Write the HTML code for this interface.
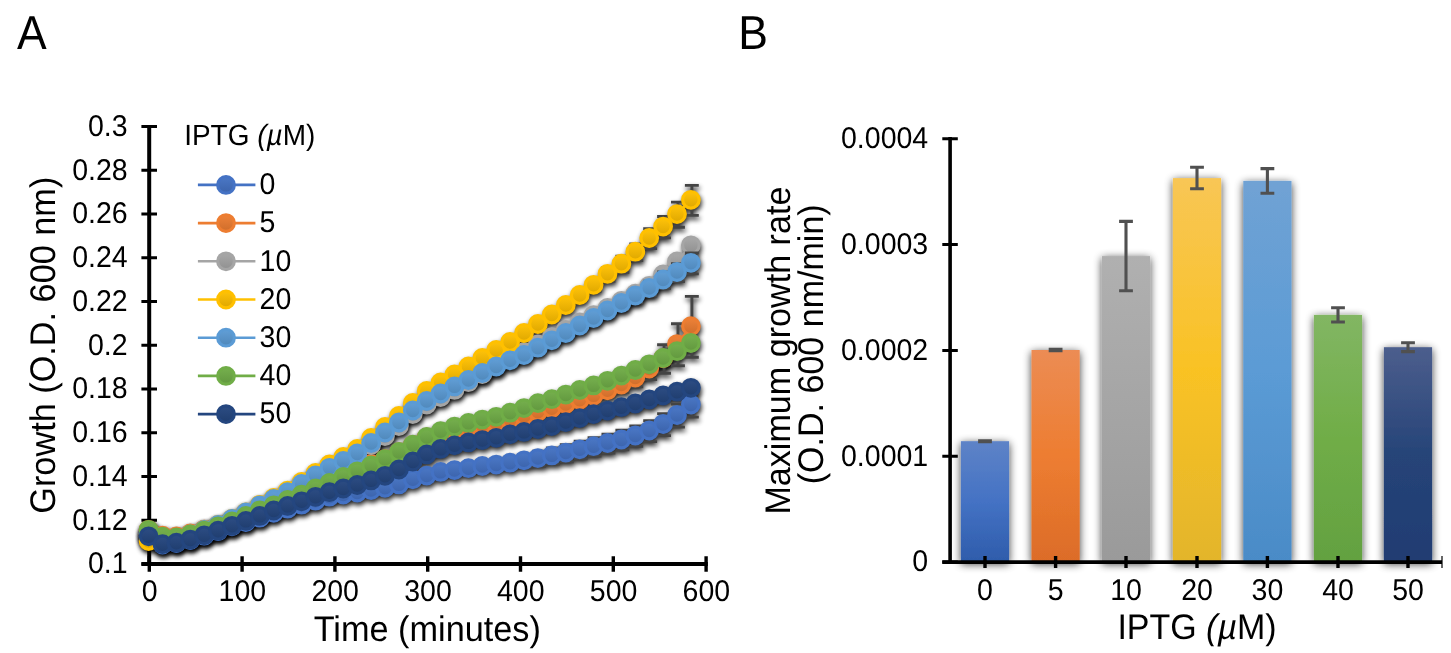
<!DOCTYPE html>
<html><head><meta charset="utf-8"><title>Figure</title>
<style>html,body{margin:0;padding:0;background:#fff;overflow:hidden}svg{display:block;opacity:0.999}</style></head>
<body>
<svg width="1451" height="653" viewBox="0 0 1451 653">
<defs>
<filter id="sh" x="-5%" y="-20%" width="110%" height="140%"><feGaussianBlur in="SourceAlpha" stdDeviation="2.9"/><feOffset dx="1.4" dy="3.4"/><feComponentTransfer><feFuncA type="linear" slope="0.85"/></feComponentTransfer></filter>
<filter id="bsh" x="-40%" y="-15%" width="180%" height="130%"><feGaussianBlur in="SourceAlpha" stdDeviation="4"/><feOffset dx="0" dy="1.5"/><feComponentTransfer><feFuncA type="linear" slope="0.78"/></feComponentTransfer><feMerge><feMergeNode/><feMergeNode in="SourceGraphic"/></feMerge></filter>
<linearGradient id="gs0" x1="0" y1="0" x2="0" y2="1"><stop offset="0" stop-color="#4B78C6"/><stop offset="1" stop-color="#3B63AB"/></linearGradient>
<linearGradient id="gs5" x1="0" y1="0" x2="0" y2="1"><stop offset="0" stop-color="#EE8239"/><stop offset="1" stop-color="#CE6D2B"/></linearGradient>
<linearGradient id="gs10" x1="0" y1="0" x2="0" y2="1"><stop offset="0" stop-color="#A9A9A9"/><stop offset="1" stop-color="#909090"/></linearGradient>
<linearGradient id="gs20" x1="0" y1="0" x2="0" y2="1"><stop offset="0" stop-color="#FFC30A"/><stop offset="1" stop-color="#DEA700"/></linearGradient>
<linearGradient id="gs30" x1="0" y1="0" x2="0" y2="1"><stop offset="0" stop-color="#629FD7"/><stop offset="1" stop-color="#4F87B9"/></linearGradient>
<linearGradient id="gs40" x1="0" y1="0" x2="0" y2="1"><stop offset="0" stop-color="#76B04E"/><stop offset="1" stop-color="#61973E"/></linearGradient>
<linearGradient id="gs50" x1="0" y1="0" x2="0" y2="1"><stop offset="0" stop-color="#2D4D84"/><stop offset="1" stop-color="#1F3D6E"/></linearGradient>
</defs>
<rect width="100%" height="100%" fill="#fff"/>
<g font-family="'Liberation Sans', sans-serif" fill="#000" text-rendering="geometricPrecision">
<text transform="translate(16.90 48.80) scale(0.9350 1)" font-size="47.6" text-anchor="start">A</text>
<text transform="translate(738.30 48.80) scale(0.9350 1)" font-size="47.6" text-anchor="start">B</text>
<g stroke="#000" fill="none">
<path d="M149.2 125V564" stroke-width="4"/>
<path d="M141.4 564H707.8" stroke-width="4"/>
<path d="M141.4 564.00H157M141.4 520.25H157M141.4 476.50H157M141.4 432.75H157M141.4 389.00H157M141.4 345.25H157M141.4 301.50H157M141.4 257.75H157M141.4 214.00H157M141.4 170.25H157M141.4 126.50H157" stroke-width="3"/>
<path d="M149.30 556.2V571.8M242.10 556.2V571.8M334.90 556.2V571.8M427.70 556.2V571.8M520.50 556.2V571.8M613.30 556.2V571.8M706.10 556.2V571.8" stroke-width="3.4"/>
</g>
<g filter="url(#sh)">
<path d="M358.2 491.5V494.7M351.2 491.5h13.9M351.2 494.7h13.9M372.1 489.1V492.4M365.1 489.1h13.9M365.1 492.4h13.9M386.0 486.7V490.1M379.0 486.7h13.9M379.0 490.1h13.9M399.9 483.2V486.8M392.9 483.2h13.9M392.9 486.8h13.9M413.8 478.1V481.7M406.8 478.1h13.9M406.8 481.7h13.9M427.7 474.4V478.0M420.7 474.4h13.9M420.7 478.0h13.9M441.6 470.6V474.4M434.7 470.6h13.9M434.7 474.4h13.9M455.5 468.8V472.6M448.6 468.8h13.9M448.6 472.6h13.9M469.4 466.8V470.8M462.5 466.8h13.9M462.5 470.8h13.9M483.3 464.6V468.6M476.4 464.6h13.9M476.4 468.6h13.9M497.2 461.5V469.0M490.3 461.5h13.9M490.3 469.0h13.9M511.1 457.8V468.8M504.2 457.8h13.9M504.2 468.8h13.9M525.0 454.4V467.4M518.1 454.4h13.9M518.1 467.4h13.9M538.9 451.2V466.2M532.0 451.2h13.9M532.0 466.2h13.9M552.8 448.0V464.0M545.9 448.0h13.9M545.9 464.0h13.9M566.8 444.7V461.7M559.8 444.7h13.9M559.8 461.7h13.9M580.7 441.1V458.7M573.7 441.1h13.9M573.7 458.7h13.9M594.6 437.6V456.0M587.6 437.6h13.9M587.6 456.0h13.9M608.5 434.1V453.1M601.5 434.1h13.9M601.5 453.1h13.9M622.4 430.3V449.9M615.4 430.3h13.9M615.4 449.9h13.9M636.3 425.9V446.3M629.3 425.9h13.9M629.3 446.3h13.9M650.2 420.6V441.6M643.2 420.6h13.9M643.2 441.6h13.9M664.1 413.6V435.6M657.1 413.6h13.9M657.1 435.6h13.9M678.0 404.1V427.1M671.0 404.1h13.9M671.0 427.1h13.9M691.9 393.1V417.1M684.9 393.1h13.9M684.9 417.1h13.9" stroke="#444" stroke-width="2.9" fill="none"/>
<polyline points="148.6,536.6 162.5,544.5 176.4,543.1 190.3,540.0 204.2,535.7 218.1,531.2 232.0,526.3 245.9,522.0 259.8,517.7 273.7,512.8 287.6,508.7 301.6,504.7 315.5,500.7 329.4,496.7 343.3,494.5 357.2,492.5 371.1,490.1 385.0,487.8 398.9,484.4 412.8,479.3 426.7,475.6 440.6,471.9 454.5,470.1 468.4,468.2 482.3,466.0 496.2,464.6 510.1,462.7 524.0,460.3 537.9,458.1 551.8,455.4 565.8,452.6 579.7,449.3 593.6,446.2 607.5,443.0 621.4,439.5 635.3,435.5 649.2,430.5 663.1,424.0 677.0,415.0 690.9,404.5" fill="none" stroke="#4472C4" stroke-width="2.6" stroke-linejoin="round"/>
<circle cx="148.6" cy="536.6" r="9.9"/>
<circle cx="162.5" cy="544.5" r="9.9"/>
<circle cx="176.4" cy="543.1" r="9.9"/>
<circle cx="190.3" cy="540.0" r="9.9"/>
<circle cx="204.2" cy="535.7" r="9.9"/>
<circle cx="218.1" cy="531.2" r="9.9"/>
<circle cx="232.0" cy="526.3" r="9.9"/>
<circle cx="245.9" cy="522.0" r="9.9"/>
<circle cx="259.8" cy="517.7" r="9.9"/>
<circle cx="273.7" cy="512.8" r="9.9"/>
<circle cx="287.6" cy="508.7" r="9.9"/>
<circle cx="301.6" cy="504.7" r="9.9"/>
<circle cx="315.5" cy="500.7" r="9.9"/>
<circle cx="329.4" cy="496.7" r="9.9"/>
<circle cx="343.3" cy="494.5" r="9.9"/>
<circle cx="357.2" cy="492.5" r="9.9"/>
<circle cx="371.1" cy="490.1" r="9.9"/>
<circle cx="385.0" cy="487.8" r="9.9"/>
<circle cx="398.9" cy="484.4" r="9.9"/>
<circle cx="412.8" cy="479.3" r="9.9"/>
<circle cx="426.7" cy="475.6" r="9.9"/>
<circle cx="440.6" cy="471.9" r="9.9"/>
<circle cx="454.5" cy="470.1" r="9.9"/>
<circle cx="468.4" cy="468.2" r="9.9"/>
<circle cx="482.3" cy="466.0" r="9.9"/>
<circle cx="496.2" cy="464.6" r="9.9"/>
<circle cx="510.1" cy="462.7" r="9.9"/>
<circle cx="524.0" cy="460.3" r="9.9"/>
<circle cx="537.9" cy="458.1" r="9.9"/>
<circle cx="551.8" cy="455.4" r="9.9"/>
<circle cx="565.8" cy="452.6" r="9.9"/>
<circle cx="579.7" cy="449.3" r="9.9"/>
<circle cx="593.6" cy="446.2" r="9.9"/>
<circle cx="607.5" cy="443.0" r="9.9"/>
<circle cx="621.4" cy="439.5" r="9.9"/>
<circle cx="635.3" cy="435.5" r="9.9"/>
<circle cx="649.2" cy="430.5" r="9.9"/>
<circle cx="663.1" cy="424.0" r="9.9"/>
<circle cx="677.0" cy="415.0" r="9.9"/>
<circle cx="690.9" cy="404.5" r="9.9"/>
</g>
<g filter="url(#sh)">
<path d="M399.9 451.2V454.4M392.9 451.2h13.9M392.9 454.4h13.9M413.8 444.0V447.3M406.8 444.0h13.9M406.8 447.3h13.9M427.7 436.4V439.8M420.7 436.4h13.9M420.7 439.8h13.9M441.6 431.6V435.0M434.7 431.6h13.9M434.7 435.0h13.9M455.5 428.5V431.9M448.6 428.5h13.9M448.6 431.9h13.9M469.4 426.2V429.8M462.5 426.2h13.9M462.5 429.8h13.9M483.3 423.9V427.5M476.4 423.9h13.9M476.4 427.5h13.9M497.2 421.8V425.5M490.3 421.8h13.9M490.3 425.5h13.9M511.1 418.4V422.2M504.2 418.4h13.9M504.2 422.2h13.9M525.0 414.6V418.4M518.1 414.6h13.9M518.1 418.4h13.9M538.9 410.4V414.2M532.0 410.4h13.9M532.0 414.2h13.9M552.8 406.8V410.8M545.9 406.8h13.9M545.9 410.8h13.9M566.8 402.7V406.7M559.8 402.7h13.9M559.8 406.7h13.9M580.7 397.1V403.6M573.7 397.1h13.9M573.7 403.6h13.9M594.6 391.5V400.5M587.6 391.5h13.9M587.6 400.5h13.9M608.5 385.2V396.7M601.5 385.2h13.9M601.5 396.7h13.9M622.4 378.2V392.2M615.4 378.2h13.9M615.4 392.2h13.9M636.3 369.4V386.9M629.3 369.4h13.9M629.3 386.9h13.9M650.2 358.6V379.6M643.2 358.6h13.9M643.2 379.6h13.9M664.1 344.7V373.2M657.1 344.7h13.9M657.1 373.2h13.9M678.0 323.7V365.7M671.0 323.7h13.9M671.0 365.7h13.9M691.9 296.4V357.2M684.9 296.4h13.9M684.9 357.2h13.9" stroke="#444" stroke-width="2.9" fill="none"/>
<polyline points="148.6,529.8 162.5,535.7 176.4,536.5 190.3,533.4 204.2,529.6 218.1,525.8 232.0,521.4 245.9,516.0 259.8,510.3 273.7,505.3 287.6,500.0 301.6,494.6 315.5,488.4 329.4,483.0 343.3,475.5 357.2,469.8 371.1,464.0 385.0,459.1 398.9,452.2 412.8,445.0 426.7,437.5 440.6,432.7 454.5,429.6 468.4,427.4 482.3,425.1 496.2,423.1 510.1,419.7 524.0,415.9 537.9,411.7 551.8,408.2 565.8,404.1 579.7,399.8 593.6,395.4 607.5,390.3 621.4,384.6 635.3,377.5 649.2,368.5 663.1,358.3 677.0,344.1 690.9,326.2" fill="none" stroke="#ED7D31" stroke-width="2.6" stroke-linejoin="round"/>
<circle cx="148.6" cy="529.8" r="9.9"/>
<circle cx="162.5" cy="535.7" r="9.9"/>
<circle cx="176.4" cy="536.5" r="9.9"/>
<circle cx="190.3" cy="533.4" r="9.9"/>
<circle cx="204.2" cy="529.6" r="9.9"/>
<circle cx="218.1" cy="525.8" r="9.9"/>
<circle cx="232.0" cy="521.4" r="9.9"/>
<circle cx="245.9" cy="516.0" r="9.9"/>
<circle cx="259.8" cy="510.3" r="9.9"/>
<circle cx="273.7" cy="505.3" r="9.9"/>
<circle cx="287.6" cy="500.0" r="9.9"/>
<circle cx="301.6" cy="494.6" r="9.9"/>
<circle cx="315.5" cy="488.4" r="9.9"/>
<circle cx="329.4" cy="483.0" r="9.9"/>
<circle cx="343.3" cy="475.5" r="9.9"/>
<circle cx="357.2" cy="469.8" r="9.9"/>
<circle cx="371.1" cy="464.0" r="9.9"/>
<circle cx="385.0" cy="459.1" r="9.9"/>
<circle cx="398.9" cy="452.2" r="9.9"/>
<circle cx="412.8" cy="445.0" r="9.9"/>
<circle cx="426.7" cy="437.5" r="9.9"/>
<circle cx="440.6" cy="432.7" r="9.9"/>
<circle cx="454.5" cy="429.6" r="9.9"/>
<circle cx="468.4" cy="427.4" r="9.9"/>
<circle cx="482.3" cy="425.1" r="9.9"/>
<circle cx="496.2" cy="423.1" r="9.9"/>
<circle cx="510.1" cy="419.7" r="9.9"/>
<circle cx="524.0" cy="415.9" r="9.9"/>
<circle cx="537.9" cy="411.7" r="9.9"/>
<circle cx="551.8" cy="408.2" r="9.9"/>
<circle cx="565.8" cy="404.1" r="9.9"/>
<circle cx="579.7" cy="399.8" r="9.9"/>
<circle cx="593.6" cy="395.4" r="9.9"/>
<circle cx="607.5" cy="390.3" r="9.9"/>
<circle cx="621.4" cy="384.6" r="9.9"/>
<circle cx="635.3" cy="377.5" r="9.9"/>
<circle cx="649.2" cy="368.5" r="9.9"/>
<circle cx="663.1" cy="358.3" r="9.9"/>
<circle cx="677.0" cy="344.1" r="9.9"/>
<circle cx="690.9" cy="326.2" r="9.9"/>
</g>
<g filter="url(#sh)">
<polyline points="148.6,534.0 162.5,539.0 176.4,538.9 190.3,535.4 204.2,530.9 218.1,525.8 232.0,519.8 245.9,513.2 259.8,506.0 273.7,499.7 287.6,492.8 301.6,484.6 315.5,476.0 329.4,468.3 343.3,461.5 357.2,454.5 371.1,445.0 385.0,436.0 398.9,426.0 412.8,414.0 426.7,404.5 440.6,397.0 454.5,389.9 468.4,382.2 482.3,374.0 496.2,365.5 510.1,357.8 524.0,352.1 537.9,344.5 551.8,337.1 565.8,329.8 579.7,322.3 593.6,315.1 607.5,308.0 621.4,300.9 635.3,293.7 649.2,285.8 663.1,274.5 677.0,261.5 690.9,245.3" fill="none" stroke="#A5A5A5" stroke-width="2.6" stroke-linejoin="round"/>
<circle cx="148.6" cy="534.0" r="9.9"/>
<circle cx="162.5" cy="539.0" r="9.9"/>
<circle cx="176.4" cy="538.9" r="9.9"/>
<circle cx="190.3" cy="535.4" r="9.9"/>
<circle cx="204.2" cy="530.9" r="9.9"/>
<circle cx="218.1" cy="525.8" r="9.9"/>
<circle cx="232.0" cy="519.8" r="9.9"/>
<circle cx="245.9" cy="513.2" r="9.9"/>
<circle cx="259.8" cy="506.0" r="9.9"/>
<circle cx="273.7" cy="499.7" r="9.9"/>
<circle cx="287.6" cy="492.8" r="9.9"/>
<circle cx="301.6" cy="484.6" r="9.9"/>
<circle cx="315.5" cy="476.0" r="9.9"/>
<circle cx="329.4" cy="468.3" r="9.9"/>
<circle cx="343.3" cy="461.5" r="9.9"/>
<circle cx="357.2" cy="454.5" r="9.9"/>
<circle cx="371.1" cy="445.0" r="9.9"/>
<circle cx="385.0" cy="436.0" r="9.9"/>
<circle cx="398.9" cy="426.0" r="9.9"/>
<circle cx="412.8" cy="414.0" r="9.9"/>
<circle cx="426.7" cy="404.5" r="9.9"/>
<circle cx="440.6" cy="397.0" r="9.9"/>
<circle cx="454.5" cy="389.9" r="9.9"/>
<circle cx="468.4" cy="382.2" r="9.9"/>
<circle cx="482.3" cy="374.0" r="9.9"/>
<circle cx="496.2" cy="365.5" r="9.9"/>
<circle cx="510.1" cy="357.8" r="9.9"/>
<circle cx="524.0" cy="352.1" r="9.9"/>
<circle cx="537.9" cy="344.5" r="9.9"/>
<circle cx="551.8" cy="337.1" r="9.9"/>
<circle cx="565.8" cy="329.8" r="9.9"/>
<circle cx="579.7" cy="322.3" r="9.9"/>
<circle cx="593.6" cy="315.1" r="9.9"/>
<circle cx="607.5" cy="308.0" r="9.9"/>
<circle cx="621.4" cy="300.9" r="9.9"/>
<circle cx="635.3" cy="293.7" r="9.9"/>
<circle cx="649.2" cy="285.8" r="9.9"/>
<circle cx="663.1" cy="274.5" r="9.9"/>
<circle cx="677.0" cy="261.5" r="9.9"/>
<circle cx="690.9" cy="245.3" r="9.9"/>
</g>
<g filter="url(#sh)">
<path d="M386.0 426.0V429.2M379.0 426.0h13.9M379.0 429.2h13.9M399.9 415.0V418.2M392.9 415.0h13.9M392.9 418.2h13.9M413.8 401.9V405.3M406.8 401.9h13.9M406.8 405.3h13.9M427.7 389.9V393.3M420.7 389.9h13.9M420.7 393.3h13.9M441.6 381.4V384.9M434.7 381.4h13.9M434.7 384.9h13.9M455.5 373.3V376.9M448.6 373.3h13.9M448.6 376.9h13.9M469.4 365.3V368.9M462.5 365.3h13.9M462.5 368.9h13.9M483.3 356.7V360.5M476.4 356.7h13.9M476.4 360.5h13.9M497.2 348.7V352.5M490.3 348.7h13.9M490.3 352.5h13.9M511.1 340.7V344.5M504.2 340.7h13.9M504.2 344.5h13.9M525.0 331.6V335.6M518.1 331.6h13.9M518.1 335.6h13.9M538.9 322.6V326.6M532.0 322.6h13.9M532.0 326.6h13.9M552.8 312.1V318.1M545.9 312.1h13.9M545.9 318.1h13.9M566.8 301.6V309.6M559.8 301.6h13.9M559.8 309.6h13.9M580.7 290.6V300.6M573.7 290.6h13.9M573.7 300.6h13.9M594.6 279.4V291.4M587.6 279.4h13.9M587.6 291.4h13.9M608.5 267.4V281.4M601.5 267.4h13.9M601.5 281.4h13.9M622.4 256.3V272.3M615.4 256.3h13.9M615.4 272.3h13.9M636.3 244.0V260.6M629.3 244.0h13.9M629.3 260.6h13.9M650.2 228.6V248.6M643.2 228.6h13.9M643.2 248.6h13.9M664.1 216.5V237.9M657.1 216.5h13.9M657.1 237.9h13.9M678.0 202.1V227.3M671.0 202.1h13.9M671.0 227.3h13.9M691.9 185.4V215.4M684.9 185.4h13.9M684.9 215.4h13.9" stroke="#444" stroke-width="2.9" fill="none"/>
<polyline points="148.6,541.0 162.5,539.0 176.4,538.0 190.3,534.5 204.2,530.0 218.1,525.0 232.0,519.0 245.9,512.3 259.8,504.8 273.7,498.0 287.6,490.7 301.6,482.0 315.5,473.0 329.4,464.5 343.3,457.0 357.2,449.0 371.1,438.0 385.0,427.0 398.9,416.0 412.8,403.0 426.7,391.0 440.6,382.5 454.5,374.5 468.4,366.5 482.3,358.0 496.2,350.0 510.1,342.0 524.0,333.0 537.9,324.0 551.8,314.5 565.8,305.0 579.7,295.0 593.6,284.8 607.5,273.8 621.4,263.7 635.3,251.7 649.2,238.0 663.1,226.6 677.0,214.1 690.9,199.8" fill="none" stroke="#FFC000" stroke-width="2.6" stroke-linejoin="round"/>
<circle cx="148.6" cy="541.0" r="9.9"/>
<circle cx="162.5" cy="539.0" r="9.9"/>
<circle cx="176.4" cy="538.0" r="9.9"/>
<circle cx="190.3" cy="534.5" r="9.9"/>
<circle cx="204.2" cy="530.0" r="9.9"/>
<circle cx="218.1" cy="525.0" r="9.9"/>
<circle cx="232.0" cy="519.0" r="9.9"/>
<circle cx="245.9" cy="512.3" r="9.9"/>
<circle cx="259.8" cy="504.8" r="9.9"/>
<circle cx="273.7" cy="498.0" r="9.9"/>
<circle cx="287.6" cy="490.7" r="9.9"/>
<circle cx="301.6" cy="482.0" r="9.9"/>
<circle cx="315.5" cy="473.0" r="9.9"/>
<circle cx="329.4" cy="464.5" r="9.9"/>
<circle cx="343.3" cy="457.0" r="9.9"/>
<circle cx="357.2" cy="449.0" r="9.9"/>
<circle cx="371.1" cy="438.0" r="9.9"/>
<circle cx="385.0" cy="427.0" r="9.9"/>
<circle cx="398.9" cy="416.0" r="9.9"/>
<circle cx="412.8" cy="403.0" r="9.9"/>
<circle cx="426.7" cy="391.0" r="9.9"/>
<circle cx="440.6" cy="382.5" r="9.9"/>
<circle cx="454.5" cy="374.5" r="9.9"/>
<circle cx="468.4" cy="366.5" r="9.9"/>
<circle cx="482.3" cy="358.0" r="9.9"/>
<circle cx="496.2" cy="350.0" r="9.9"/>
<circle cx="510.1" cy="342.0" r="9.9"/>
<circle cx="524.0" cy="333.0" r="9.9"/>
<circle cx="537.9" cy="324.0" r="9.9"/>
<circle cx="551.8" cy="314.5" r="9.9"/>
<circle cx="565.8" cy="305.0" r="9.9"/>
<circle cx="579.7" cy="295.0" r="9.9"/>
<circle cx="593.6" cy="284.8" r="9.9"/>
<circle cx="607.5" cy="273.8" r="9.9"/>
<circle cx="621.4" cy="263.7" r="9.9"/>
<circle cx="635.3" cy="251.7" r="9.9"/>
<circle cx="649.2" cy="238.0" r="9.9"/>
<circle cx="663.1" cy="226.6" r="9.9"/>
<circle cx="677.0" cy="214.1" r="9.9"/>
<circle cx="690.9" cy="199.8" r="9.9"/>
</g>
<g filter="url(#sh)">
<path d="M399.9 421.5V424.7M392.9 421.5h13.9M392.9 424.7h13.9M413.8 409.5V412.7M406.8 409.5h13.9M406.8 412.7h13.9M427.7 399.9V403.3M420.7 399.9h13.9M420.7 403.3h13.9M441.6 392.4V395.8M434.7 392.4h13.9M434.7 395.8h13.9M455.5 385.3V388.7M448.6 385.3h13.9M448.6 388.7h13.9M469.4 378.8V382.4M462.5 378.8h13.9M462.5 382.4h13.9M483.3 371.8V375.4M476.4 371.8h13.9M476.4 375.4h13.9M497.2 365.3V368.9M490.3 365.3h13.9M490.3 368.9h13.9M511.1 359.0V362.8M504.2 359.0h13.9M504.2 362.8h13.9M525.0 353.7V357.5M518.1 353.7h13.9M518.1 357.5h13.9M538.9 346.4V350.2M532.0 346.4h13.9M532.0 350.2h13.9M552.8 338.9V342.9M545.9 338.9h13.9M545.9 342.9h13.9M566.8 331.6V335.6M559.8 331.6h13.9M559.8 335.6h13.9M580.7 323.2V329.0M573.7 323.2h13.9M573.7 329.0h13.9M594.6 314.8V322.4M587.6 314.8h13.9M587.6 322.4h13.9M608.5 306.4V315.9M601.5 306.4h13.9M601.5 315.9h13.9M622.4 297.9V309.3M615.4 297.9h13.9M615.4 309.3h13.9M636.3 289.5V302.7M629.3 289.5h13.9M629.3 302.7h13.9M650.2 281.1V296.1M643.2 281.1h13.9M643.2 296.1h13.9M664.1 271.9V288.4M657.1 271.9h13.9M657.1 288.4h13.9M678.0 263.6V281.6M671.0 263.6h13.9M671.0 281.6h13.9M691.9 252.9V273.9M684.9 252.9h13.9M684.9 273.9h13.9" stroke="#444" stroke-width="2.9" fill="none"/>
<polyline points="148.6,533.0 162.5,538.0 176.4,538.0 190.3,534.5 204.2,530.0 218.1,525.0 232.0,519.0 245.9,512.5 259.8,505.3 273.7,499.0 287.6,492.2 301.6,484.0 315.5,475.4 329.4,467.8 343.3,461.0 357.2,453.5 371.1,443.0 385.0,432.5 398.9,422.5 412.8,410.5 426.7,401.0 440.6,393.5 454.5,386.4 468.4,380.0 482.3,373.0 496.2,366.5 510.1,360.3 524.0,355.0 537.9,347.7 551.8,340.3 565.8,333.0 579.7,325.5 593.6,318.0 607.5,310.5 621.4,303.0 635.3,295.5 649.2,288.0 663.1,279.5 677.0,272.0 690.9,262.8" fill="none" stroke="#5B9BD5" stroke-width="2.6" stroke-linejoin="round"/>
<circle cx="148.6" cy="533.0" r="9.9"/>
<circle cx="162.5" cy="538.0" r="9.9"/>
<circle cx="176.4" cy="538.0" r="9.9"/>
<circle cx="190.3" cy="534.5" r="9.9"/>
<circle cx="204.2" cy="530.0" r="9.9"/>
<circle cx="218.1" cy="525.0" r="9.9"/>
<circle cx="232.0" cy="519.0" r="9.9"/>
<circle cx="245.9" cy="512.5" r="9.9"/>
<circle cx="259.8" cy="505.3" r="9.9"/>
<circle cx="273.7" cy="499.0" r="9.9"/>
<circle cx="287.6" cy="492.2" r="9.9"/>
<circle cx="301.6" cy="484.0" r="9.9"/>
<circle cx="315.5" cy="475.4" r="9.9"/>
<circle cx="329.4" cy="467.8" r="9.9"/>
<circle cx="343.3" cy="461.0" r="9.9"/>
<circle cx="357.2" cy="453.5" r="9.9"/>
<circle cx="371.1" cy="443.0" r="9.9"/>
<circle cx="385.0" cy="432.5" r="9.9"/>
<circle cx="398.9" cy="422.5" r="9.9"/>
<circle cx="412.8" cy="410.5" r="9.9"/>
<circle cx="426.7" cy="401.0" r="9.9"/>
<circle cx="440.6" cy="393.5" r="9.9"/>
<circle cx="454.5" cy="386.4" r="9.9"/>
<circle cx="468.4" cy="380.0" r="9.9"/>
<circle cx="482.3" cy="373.0" r="9.9"/>
<circle cx="496.2" cy="366.5" r="9.9"/>
<circle cx="510.1" cy="360.3" r="9.9"/>
<circle cx="524.0" cy="355.0" r="9.9"/>
<circle cx="537.9" cy="347.7" r="9.9"/>
<circle cx="551.8" cy="340.3" r="9.9"/>
<circle cx="565.8" cy="333.0" r="9.9"/>
<circle cx="579.7" cy="325.5" r="9.9"/>
<circle cx="593.6" cy="318.0" r="9.9"/>
<circle cx="607.5" cy="310.5" r="9.9"/>
<circle cx="621.4" cy="303.0" r="9.9"/>
<circle cx="635.3" cy="295.5" r="9.9"/>
<circle cx="649.2" cy="288.0" r="9.9"/>
<circle cx="663.1" cy="279.5" r="9.9"/>
<circle cx="677.0" cy="272.0" r="9.9"/>
<circle cx="690.9" cy="262.8" r="9.9"/>
</g>
<g filter="url(#sh)">
<polyline points="148.6,529.8 162.5,536.7 176.4,537.5 190.3,534.4 204.2,530.6 218.1,526.3 232.0,521.4 245.9,516.0 259.8,510.3 273.7,505.3 287.6,500.0 301.6,494.6 315.5,488.4 329.4,483.0 343.3,477.0 357.2,471.3 371.1,465.5 385.0,459.1 398.9,452.0 412.8,444.7 426.7,437.0 440.6,431.2 454.5,426.6 468.4,422.9 482.3,419.6 496.2,416.8 510.1,412.7 524.0,408.1 537.9,403.2 551.8,399.2 565.8,394.6 579.7,390.0 593.6,385.4 607.5,380.8 621.4,375.6 635.3,370.0 649.2,364.3 663.1,358.0 677.0,351.2 690.9,343.0" fill="none" stroke="#70AD47" stroke-width="2.6" stroke-linejoin="round"/>
<circle cx="148.6" cy="529.8" r="9.9"/>
<circle cx="162.5" cy="536.7" r="9.9"/>
<circle cx="176.4" cy="537.5" r="9.9"/>
<circle cx="190.3" cy="534.4" r="9.9"/>
<circle cx="204.2" cy="530.6" r="9.9"/>
<circle cx="218.1" cy="526.3" r="9.9"/>
<circle cx="232.0" cy="521.4" r="9.9"/>
<circle cx="245.9" cy="516.0" r="9.9"/>
<circle cx="259.8" cy="510.3" r="9.9"/>
<circle cx="273.7" cy="505.3" r="9.9"/>
<circle cx="287.6" cy="500.0" r="9.9"/>
<circle cx="301.6" cy="494.6" r="9.9"/>
<circle cx="315.5" cy="488.4" r="9.9"/>
<circle cx="329.4" cy="483.0" r="9.9"/>
<circle cx="343.3" cy="477.0" r="9.9"/>
<circle cx="357.2" cy="471.3" r="9.9"/>
<circle cx="371.1" cy="465.5" r="9.9"/>
<circle cx="385.0" cy="459.1" r="9.9"/>
<circle cx="398.9" cy="452.0" r="9.9"/>
<circle cx="412.8" cy="444.7" r="9.9"/>
<circle cx="426.7" cy="437.0" r="9.9"/>
<circle cx="440.6" cy="431.2" r="9.9"/>
<circle cx="454.5" cy="426.6" r="9.9"/>
<circle cx="468.4" cy="422.9" r="9.9"/>
<circle cx="482.3" cy="419.6" r="9.9"/>
<circle cx="496.2" cy="416.8" r="9.9"/>
<circle cx="510.1" cy="412.7" r="9.9"/>
<circle cx="524.0" cy="408.1" r="9.9"/>
<circle cx="537.9" cy="403.2" r="9.9"/>
<circle cx="551.8" cy="399.2" r="9.9"/>
<circle cx="565.8" cy="394.6" r="9.9"/>
<circle cx="579.7" cy="390.0" r="9.9"/>
<circle cx="593.6" cy="385.4" r="9.9"/>
<circle cx="607.5" cy="380.8" r="9.9"/>
<circle cx="621.4" cy="375.6" r="9.9"/>
<circle cx="635.3" cy="370.0" r="9.9"/>
<circle cx="649.2" cy="364.3" r="9.9"/>
<circle cx="663.1" cy="358.0" r="9.9"/>
<circle cx="677.0" cy="351.2" r="9.9"/>
<circle cx="690.9" cy="343.0" r="9.9"/>
</g>
<g filter="url(#sh)">
<polyline points="148.6,536.3 162.5,544.2 176.4,542.7 190.3,539.6 204.2,535.3 218.1,530.7 232.0,525.8 245.9,520.9 259.8,515.9 273.7,510.5 287.6,505.9 301.6,501.3 315.5,496.8 329.4,492.2 343.3,488.5 357.2,485.0 371.1,480.4 385.0,475.8 398.9,469.5 412.8,461.5 426.7,454.4 440.6,448.9 454.5,445.3 468.4,442.4 482.3,440.1 496.2,437.8 510.1,434.3 524.0,431.9 537.9,429.0 551.8,426.1 565.8,422.1 579.7,418.1 593.6,414.1 607.5,410.6 621.4,407.2 635.3,403.5 649.2,399.5 663.1,395.5 677.0,391.7 690.9,387.8" fill="none" stroke="#24467F" stroke-width="2.6" stroke-linejoin="round"/>
<circle cx="148.6" cy="536.3" r="9.9"/>
<circle cx="162.5" cy="544.2" r="9.9"/>
<circle cx="176.4" cy="542.7" r="9.9"/>
<circle cx="190.3" cy="539.6" r="9.9"/>
<circle cx="204.2" cy="535.3" r="9.9"/>
<circle cx="218.1" cy="530.7" r="9.9"/>
<circle cx="232.0" cy="525.8" r="9.9"/>
<circle cx="245.9" cy="520.9" r="9.9"/>
<circle cx="259.8" cy="515.9" r="9.9"/>
<circle cx="273.7" cy="510.5" r="9.9"/>
<circle cx="287.6" cy="505.9" r="9.9"/>
<circle cx="301.6" cy="501.3" r="9.9"/>
<circle cx="315.5" cy="496.8" r="9.9"/>
<circle cx="329.4" cy="492.2" r="9.9"/>
<circle cx="343.3" cy="488.5" r="9.9"/>
<circle cx="357.2" cy="485.0" r="9.9"/>
<circle cx="371.1" cy="480.4" r="9.9"/>
<circle cx="385.0" cy="475.8" r="9.9"/>
<circle cx="398.9" cy="469.5" r="9.9"/>
<circle cx="412.8" cy="461.5" r="9.9"/>
<circle cx="426.7" cy="454.4" r="9.9"/>
<circle cx="440.6" cy="448.9" r="9.9"/>
<circle cx="454.5" cy="445.3" r="9.9"/>
<circle cx="468.4" cy="442.4" r="9.9"/>
<circle cx="482.3" cy="440.1" r="9.9"/>
<circle cx="496.2" cy="437.8" r="9.9"/>
<circle cx="510.1" cy="434.3" r="9.9"/>
<circle cx="524.0" cy="431.9" r="9.9"/>
<circle cx="537.9" cy="429.0" r="9.9"/>
<circle cx="551.8" cy="426.1" r="9.9"/>
<circle cx="565.8" cy="422.1" r="9.9"/>
<circle cx="579.7" cy="418.1" r="9.9"/>
<circle cx="593.6" cy="414.1" r="9.9"/>
<circle cx="607.5" cy="410.6" r="9.9"/>
<circle cx="621.4" cy="407.2" r="9.9"/>
<circle cx="635.3" cy="403.5" r="9.9"/>
<circle cx="649.2" cy="399.5" r="9.9"/>
<circle cx="663.1" cy="395.5" r="9.9"/>
<circle cx="677.0" cy="391.7" r="9.9"/>
<circle cx="690.9" cy="387.8" r="9.9"/>
</g>
<g>
<path d="M358.2 491.5V494.7M351.2 491.5h13.9M351.2 494.7h13.9M372.1 489.1V492.4M365.1 489.1h13.9M365.1 492.4h13.9M386.0 486.7V490.1M379.0 486.7h13.9M379.0 490.1h13.9M399.9 483.2V486.8M392.9 483.2h13.9M392.9 486.8h13.9M413.8 478.1V481.7M406.8 478.1h13.9M406.8 481.7h13.9M427.7 474.4V478.0M420.7 474.4h13.9M420.7 478.0h13.9M441.6 470.6V474.4M434.7 470.6h13.9M434.7 474.4h13.9M455.5 468.8V472.6M448.6 468.8h13.9M448.6 472.6h13.9M469.4 466.8V470.8M462.5 466.8h13.9M462.5 470.8h13.9M483.3 464.6V468.6M476.4 464.6h13.9M476.4 468.6h13.9M497.2 461.5V469.0M490.3 461.5h13.9M490.3 469.0h13.9M511.1 457.8V468.8M504.2 457.8h13.9M504.2 468.8h13.9M525.0 454.4V467.4M518.1 454.4h13.9M518.1 467.4h13.9M538.9 451.2V466.2M532.0 451.2h13.9M532.0 466.2h13.9M552.8 448.0V464.0M545.9 448.0h13.9M545.9 464.0h13.9M566.8 444.7V461.7M559.8 444.7h13.9M559.8 461.7h13.9M580.7 441.1V458.7M573.7 441.1h13.9M573.7 458.7h13.9M594.6 437.6V456.0M587.6 437.6h13.9M587.6 456.0h13.9M608.5 434.1V453.1M601.5 434.1h13.9M601.5 453.1h13.9M622.4 430.3V449.9M615.4 430.3h13.9M615.4 449.9h13.9M636.3 425.9V446.3M629.3 425.9h13.9M629.3 446.3h13.9M650.2 420.6V441.6M643.2 420.6h13.9M643.2 441.6h13.9M664.1 413.6V435.6M657.1 413.6h13.9M657.1 435.6h13.9M678.0 404.1V427.1M671.0 404.1h13.9M671.0 427.1h13.9M691.9 393.1V417.1M684.9 393.1h13.9M684.9 417.1h13.9" stroke="#444" stroke-width="2.9" fill="none"/>
<polyline points="148.6,536.6 162.5,544.5 176.4,543.1 190.3,540.0 204.2,535.7 218.1,531.2 232.0,526.3 245.9,522.0 259.8,517.7 273.7,512.8 287.6,508.7 301.6,504.7 315.5,500.7 329.4,496.7 343.3,494.5 357.2,492.5 371.1,490.1 385.0,487.8 398.9,484.4 412.8,479.3 426.7,475.6 440.6,471.9 454.5,470.1 468.4,468.2 482.3,466.0 496.2,464.6 510.1,462.7 524.0,460.3 537.9,458.1 551.8,455.4 565.8,452.6 579.7,449.3 593.6,446.2 607.5,443.0 621.4,439.5 635.3,435.5 649.2,430.5 663.1,424.0 677.0,415.0 690.9,404.5" fill="none" stroke="#4472C4" stroke-width="2.6" stroke-linejoin="round"/>
<circle cx="148.6" cy="536.6" r="8.3" fill="url(#gs0)" stroke="#4472C4" stroke-width="3.2"/>
<circle cx="162.5" cy="544.5" r="8.3" fill="url(#gs0)" stroke="#4472C4" stroke-width="3.2"/>
<circle cx="176.4" cy="543.1" r="8.3" fill="url(#gs0)" stroke="#4472C4" stroke-width="3.2"/>
<circle cx="190.3" cy="540.0" r="8.3" fill="url(#gs0)" stroke="#4472C4" stroke-width="3.2"/>
<circle cx="204.2" cy="535.7" r="8.3" fill="url(#gs0)" stroke="#4472C4" stroke-width="3.2"/>
<circle cx="218.1" cy="531.2" r="8.3" fill="url(#gs0)" stroke="#4472C4" stroke-width="3.2"/>
<circle cx="232.0" cy="526.3" r="8.3" fill="url(#gs0)" stroke="#4472C4" stroke-width="3.2"/>
<circle cx="245.9" cy="522.0" r="8.3" fill="url(#gs0)" stroke="#4472C4" stroke-width="3.2"/>
<circle cx="259.8" cy="517.7" r="8.3" fill="url(#gs0)" stroke="#4472C4" stroke-width="3.2"/>
<circle cx="273.7" cy="512.8" r="8.3" fill="url(#gs0)" stroke="#4472C4" stroke-width="3.2"/>
<circle cx="287.6" cy="508.7" r="8.3" fill="url(#gs0)" stroke="#4472C4" stroke-width="3.2"/>
<circle cx="301.6" cy="504.7" r="8.3" fill="url(#gs0)" stroke="#4472C4" stroke-width="3.2"/>
<circle cx="315.5" cy="500.7" r="8.3" fill="url(#gs0)" stroke="#4472C4" stroke-width="3.2"/>
<circle cx="329.4" cy="496.7" r="8.3" fill="url(#gs0)" stroke="#4472C4" stroke-width="3.2"/>
<circle cx="343.3" cy="494.5" r="8.3" fill="url(#gs0)" stroke="#4472C4" stroke-width="3.2"/>
<circle cx="357.2" cy="492.5" r="8.3" fill="url(#gs0)" stroke="#4472C4" stroke-width="3.2"/>
<circle cx="371.1" cy="490.1" r="8.3" fill="url(#gs0)" stroke="#4472C4" stroke-width="3.2"/>
<circle cx="385.0" cy="487.8" r="8.3" fill="url(#gs0)" stroke="#4472C4" stroke-width="3.2"/>
<circle cx="398.9" cy="484.4" r="8.3" fill="url(#gs0)" stroke="#4472C4" stroke-width="3.2"/>
<circle cx="412.8" cy="479.3" r="8.3" fill="url(#gs0)" stroke="#4472C4" stroke-width="3.2"/>
<circle cx="426.7" cy="475.6" r="8.3" fill="url(#gs0)" stroke="#4472C4" stroke-width="3.2"/>
<circle cx="440.6" cy="471.9" r="8.3" fill="url(#gs0)" stroke="#4472C4" stroke-width="3.2"/>
<circle cx="454.5" cy="470.1" r="8.3" fill="url(#gs0)" stroke="#4472C4" stroke-width="3.2"/>
<circle cx="468.4" cy="468.2" r="8.3" fill="url(#gs0)" stroke="#4472C4" stroke-width="3.2"/>
<circle cx="482.3" cy="466.0" r="8.3" fill="url(#gs0)" stroke="#4472C4" stroke-width="3.2"/>
<circle cx="496.2" cy="464.6" r="8.3" fill="url(#gs0)" stroke="#4472C4" stroke-width="3.2"/>
<circle cx="510.1" cy="462.7" r="8.3" fill="url(#gs0)" stroke="#4472C4" stroke-width="3.2"/>
<circle cx="524.0" cy="460.3" r="8.3" fill="url(#gs0)" stroke="#4472C4" stroke-width="3.2"/>
<circle cx="537.9" cy="458.1" r="8.3" fill="url(#gs0)" stroke="#4472C4" stroke-width="3.2"/>
<circle cx="551.8" cy="455.4" r="8.3" fill="url(#gs0)" stroke="#4472C4" stroke-width="3.2"/>
<circle cx="565.8" cy="452.6" r="8.3" fill="url(#gs0)" stroke="#4472C4" stroke-width="3.2"/>
<circle cx="579.7" cy="449.3" r="8.3" fill="url(#gs0)" stroke="#4472C4" stroke-width="3.2"/>
<circle cx="593.6" cy="446.2" r="8.3" fill="url(#gs0)" stroke="#4472C4" stroke-width="3.2"/>
<circle cx="607.5" cy="443.0" r="8.3" fill="url(#gs0)" stroke="#4472C4" stroke-width="3.2"/>
<circle cx="621.4" cy="439.5" r="8.3" fill="url(#gs0)" stroke="#4472C4" stroke-width="3.2"/>
<circle cx="635.3" cy="435.5" r="8.3" fill="url(#gs0)" stroke="#4472C4" stroke-width="3.2"/>
<circle cx="649.2" cy="430.5" r="8.3" fill="url(#gs0)" stroke="#4472C4" stroke-width="3.2"/>
<circle cx="663.1" cy="424.0" r="8.3" fill="url(#gs0)" stroke="#4472C4" stroke-width="3.2"/>
<circle cx="677.0" cy="415.0" r="8.3" fill="url(#gs0)" stroke="#4472C4" stroke-width="3.2"/>
<circle cx="690.9" cy="404.5" r="8.3" fill="url(#gs0)" stroke="#4472C4" stroke-width="3.2"/>
</g>
<g>
<path d="M399.9 451.2V454.4M392.9 451.2h13.9M392.9 454.4h13.9M413.8 444.0V447.3M406.8 444.0h13.9M406.8 447.3h13.9M427.7 436.4V439.8M420.7 436.4h13.9M420.7 439.8h13.9M441.6 431.6V435.0M434.7 431.6h13.9M434.7 435.0h13.9M455.5 428.5V431.9M448.6 428.5h13.9M448.6 431.9h13.9M469.4 426.2V429.8M462.5 426.2h13.9M462.5 429.8h13.9M483.3 423.9V427.5M476.4 423.9h13.9M476.4 427.5h13.9M497.2 421.8V425.5M490.3 421.8h13.9M490.3 425.5h13.9M511.1 418.4V422.2M504.2 418.4h13.9M504.2 422.2h13.9M525.0 414.6V418.4M518.1 414.6h13.9M518.1 418.4h13.9M538.9 410.4V414.2M532.0 410.4h13.9M532.0 414.2h13.9M552.8 406.8V410.8M545.9 406.8h13.9M545.9 410.8h13.9M566.8 402.7V406.7M559.8 402.7h13.9M559.8 406.7h13.9M580.7 397.1V403.6M573.7 397.1h13.9M573.7 403.6h13.9M594.6 391.5V400.5M587.6 391.5h13.9M587.6 400.5h13.9M608.5 385.2V396.7M601.5 385.2h13.9M601.5 396.7h13.9M622.4 378.2V392.2M615.4 378.2h13.9M615.4 392.2h13.9M636.3 369.4V386.9M629.3 369.4h13.9M629.3 386.9h13.9M650.2 358.6V379.6M643.2 358.6h13.9M643.2 379.6h13.9M664.1 344.7V373.2M657.1 344.7h13.9M657.1 373.2h13.9M678.0 323.7V365.7M671.0 323.7h13.9M671.0 365.7h13.9M691.9 296.4V357.2M684.9 296.4h13.9M684.9 357.2h13.9" stroke="#444" stroke-width="2.9" fill="none"/>
<polyline points="148.6,529.8 162.5,535.7 176.4,536.5 190.3,533.4 204.2,529.6 218.1,525.8 232.0,521.4 245.9,516.0 259.8,510.3 273.7,505.3 287.6,500.0 301.6,494.6 315.5,488.4 329.4,483.0 343.3,475.5 357.2,469.8 371.1,464.0 385.0,459.1 398.9,452.2 412.8,445.0 426.7,437.5 440.6,432.7 454.5,429.6 468.4,427.4 482.3,425.1 496.2,423.1 510.1,419.7 524.0,415.9 537.9,411.7 551.8,408.2 565.8,404.1 579.7,399.8 593.6,395.4 607.5,390.3 621.4,384.6 635.3,377.5 649.2,368.5 663.1,358.3 677.0,344.1 690.9,326.2" fill="none" stroke="#ED7D31" stroke-width="2.6" stroke-linejoin="round"/>
<circle cx="148.6" cy="529.8" r="8.3" fill="url(#gs5)" stroke="#ED7D31" stroke-width="3.2"/>
<circle cx="162.5" cy="535.7" r="8.3" fill="url(#gs5)" stroke="#ED7D31" stroke-width="3.2"/>
<circle cx="176.4" cy="536.5" r="8.3" fill="url(#gs5)" stroke="#ED7D31" stroke-width="3.2"/>
<circle cx="190.3" cy="533.4" r="8.3" fill="url(#gs5)" stroke="#ED7D31" stroke-width="3.2"/>
<circle cx="204.2" cy="529.6" r="8.3" fill="url(#gs5)" stroke="#ED7D31" stroke-width="3.2"/>
<circle cx="218.1" cy="525.8" r="8.3" fill="url(#gs5)" stroke="#ED7D31" stroke-width="3.2"/>
<circle cx="232.0" cy="521.4" r="8.3" fill="url(#gs5)" stroke="#ED7D31" stroke-width="3.2"/>
<circle cx="245.9" cy="516.0" r="8.3" fill="url(#gs5)" stroke="#ED7D31" stroke-width="3.2"/>
<circle cx="259.8" cy="510.3" r="8.3" fill="url(#gs5)" stroke="#ED7D31" stroke-width="3.2"/>
<circle cx="273.7" cy="505.3" r="8.3" fill="url(#gs5)" stroke="#ED7D31" stroke-width="3.2"/>
<circle cx="287.6" cy="500.0" r="8.3" fill="url(#gs5)" stroke="#ED7D31" stroke-width="3.2"/>
<circle cx="301.6" cy="494.6" r="8.3" fill="url(#gs5)" stroke="#ED7D31" stroke-width="3.2"/>
<circle cx="315.5" cy="488.4" r="8.3" fill="url(#gs5)" stroke="#ED7D31" stroke-width="3.2"/>
<circle cx="329.4" cy="483.0" r="8.3" fill="url(#gs5)" stroke="#ED7D31" stroke-width="3.2"/>
<circle cx="343.3" cy="475.5" r="8.3" fill="url(#gs5)" stroke="#ED7D31" stroke-width="3.2"/>
<circle cx="357.2" cy="469.8" r="8.3" fill="url(#gs5)" stroke="#ED7D31" stroke-width="3.2"/>
<circle cx="371.1" cy="464.0" r="8.3" fill="url(#gs5)" stroke="#ED7D31" stroke-width="3.2"/>
<circle cx="385.0" cy="459.1" r="8.3" fill="url(#gs5)" stroke="#ED7D31" stroke-width="3.2"/>
<circle cx="398.9" cy="452.2" r="8.3" fill="url(#gs5)" stroke="#ED7D31" stroke-width="3.2"/>
<circle cx="412.8" cy="445.0" r="8.3" fill="url(#gs5)" stroke="#ED7D31" stroke-width="3.2"/>
<circle cx="426.7" cy="437.5" r="8.3" fill="url(#gs5)" stroke="#ED7D31" stroke-width="3.2"/>
<circle cx="440.6" cy="432.7" r="8.3" fill="url(#gs5)" stroke="#ED7D31" stroke-width="3.2"/>
<circle cx="454.5" cy="429.6" r="8.3" fill="url(#gs5)" stroke="#ED7D31" stroke-width="3.2"/>
<circle cx="468.4" cy="427.4" r="8.3" fill="url(#gs5)" stroke="#ED7D31" stroke-width="3.2"/>
<circle cx="482.3" cy="425.1" r="8.3" fill="url(#gs5)" stroke="#ED7D31" stroke-width="3.2"/>
<circle cx="496.2" cy="423.1" r="8.3" fill="url(#gs5)" stroke="#ED7D31" stroke-width="3.2"/>
<circle cx="510.1" cy="419.7" r="8.3" fill="url(#gs5)" stroke="#ED7D31" stroke-width="3.2"/>
<circle cx="524.0" cy="415.9" r="8.3" fill="url(#gs5)" stroke="#ED7D31" stroke-width="3.2"/>
<circle cx="537.9" cy="411.7" r="8.3" fill="url(#gs5)" stroke="#ED7D31" stroke-width="3.2"/>
<circle cx="551.8" cy="408.2" r="8.3" fill="url(#gs5)" stroke="#ED7D31" stroke-width="3.2"/>
<circle cx="565.8" cy="404.1" r="8.3" fill="url(#gs5)" stroke="#ED7D31" stroke-width="3.2"/>
<circle cx="579.7" cy="399.8" r="8.3" fill="url(#gs5)" stroke="#ED7D31" stroke-width="3.2"/>
<circle cx="593.6" cy="395.4" r="8.3" fill="url(#gs5)" stroke="#ED7D31" stroke-width="3.2"/>
<circle cx="607.5" cy="390.3" r="8.3" fill="url(#gs5)" stroke="#ED7D31" stroke-width="3.2"/>
<circle cx="621.4" cy="384.6" r="8.3" fill="url(#gs5)" stroke="#ED7D31" stroke-width="3.2"/>
<circle cx="635.3" cy="377.5" r="8.3" fill="url(#gs5)" stroke="#ED7D31" stroke-width="3.2"/>
<circle cx="649.2" cy="368.5" r="8.3" fill="url(#gs5)" stroke="#ED7D31" stroke-width="3.2"/>
<circle cx="663.1" cy="358.3" r="8.3" fill="url(#gs5)" stroke="#ED7D31" stroke-width="3.2"/>
<circle cx="677.0" cy="344.1" r="8.3" fill="url(#gs5)" stroke="#ED7D31" stroke-width="3.2"/>
<circle cx="690.9" cy="326.2" r="8.3" fill="url(#gs5)" stroke="#ED7D31" stroke-width="3.2"/>
</g>
<g>
<polyline points="148.6,534.0 162.5,539.0 176.4,538.9 190.3,535.4 204.2,530.9 218.1,525.8 232.0,519.8 245.9,513.2 259.8,506.0 273.7,499.7 287.6,492.8 301.6,484.6 315.5,476.0 329.4,468.3 343.3,461.5 357.2,454.5 371.1,445.0 385.0,436.0 398.9,426.0 412.8,414.0 426.7,404.5 440.6,397.0 454.5,389.9 468.4,382.2 482.3,374.0 496.2,365.5 510.1,357.8 524.0,352.1 537.9,344.5 551.8,337.1 565.8,329.8 579.7,322.3 593.6,315.1 607.5,308.0 621.4,300.9 635.3,293.7 649.2,285.8 663.1,274.5 677.0,261.5 690.9,245.3" fill="none" stroke="#A5A5A5" stroke-width="2.6" stroke-linejoin="round"/>
<circle cx="148.6" cy="534.0" r="8.3" fill="url(#gs10)" stroke="#A5A5A5" stroke-width="3.2"/>
<circle cx="162.5" cy="539.0" r="8.3" fill="url(#gs10)" stroke="#A5A5A5" stroke-width="3.2"/>
<circle cx="176.4" cy="538.9" r="8.3" fill="url(#gs10)" stroke="#A5A5A5" stroke-width="3.2"/>
<circle cx="190.3" cy="535.4" r="8.3" fill="url(#gs10)" stroke="#A5A5A5" stroke-width="3.2"/>
<circle cx="204.2" cy="530.9" r="8.3" fill="url(#gs10)" stroke="#A5A5A5" stroke-width="3.2"/>
<circle cx="218.1" cy="525.8" r="8.3" fill="url(#gs10)" stroke="#A5A5A5" stroke-width="3.2"/>
<circle cx="232.0" cy="519.8" r="8.3" fill="url(#gs10)" stroke="#A5A5A5" stroke-width="3.2"/>
<circle cx="245.9" cy="513.2" r="8.3" fill="url(#gs10)" stroke="#A5A5A5" stroke-width="3.2"/>
<circle cx="259.8" cy="506.0" r="8.3" fill="url(#gs10)" stroke="#A5A5A5" stroke-width="3.2"/>
<circle cx="273.7" cy="499.7" r="8.3" fill="url(#gs10)" stroke="#A5A5A5" stroke-width="3.2"/>
<circle cx="287.6" cy="492.8" r="8.3" fill="url(#gs10)" stroke="#A5A5A5" stroke-width="3.2"/>
<circle cx="301.6" cy="484.6" r="8.3" fill="url(#gs10)" stroke="#A5A5A5" stroke-width="3.2"/>
<circle cx="315.5" cy="476.0" r="8.3" fill="url(#gs10)" stroke="#A5A5A5" stroke-width="3.2"/>
<circle cx="329.4" cy="468.3" r="8.3" fill="url(#gs10)" stroke="#A5A5A5" stroke-width="3.2"/>
<circle cx="343.3" cy="461.5" r="8.3" fill="url(#gs10)" stroke="#A5A5A5" stroke-width="3.2"/>
<circle cx="357.2" cy="454.5" r="8.3" fill="url(#gs10)" stroke="#A5A5A5" stroke-width="3.2"/>
<circle cx="371.1" cy="445.0" r="8.3" fill="url(#gs10)" stroke="#A5A5A5" stroke-width="3.2"/>
<circle cx="385.0" cy="436.0" r="8.3" fill="url(#gs10)" stroke="#A5A5A5" stroke-width="3.2"/>
<circle cx="398.9" cy="426.0" r="8.3" fill="url(#gs10)" stroke="#A5A5A5" stroke-width="3.2"/>
<circle cx="412.8" cy="414.0" r="8.3" fill="url(#gs10)" stroke="#A5A5A5" stroke-width="3.2"/>
<circle cx="426.7" cy="404.5" r="8.3" fill="url(#gs10)" stroke="#A5A5A5" stroke-width="3.2"/>
<circle cx="440.6" cy="397.0" r="8.3" fill="url(#gs10)" stroke="#A5A5A5" stroke-width="3.2"/>
<circle cx="454.5" cy="389.9" r="8.3" fill="url(#gs10)" stroke="#A5A5A5" stroke-width="3.2"/>
<circle cx="468.4" cy="382.2" r="8.3" fill="url(#gs10)" stroke="#A5A5A5" stroke-width="3.2"/>
<circle cx="482.3" cy="374.0" r="8.3" fill="url(#gs10)" stroke="#A5A5A5" stroke-width="3.2"/>
<circle cx="496.2" cy="365.5" r="8.3" fill="url(#gs10)" stroke="#A5A5A5" stroke-width="3.2"/>
<circle cx="510.1" cy="357.8" r="8.3" fill="url(#gs10)" stroke="#A5A5A5" stroke-width="3.2"/>
<circle cx="524.0" cy="352.1" r="8.3" fill="url(#gs10)" stroke="#A5A5A5" stroke-width="3.2"/>
<circle cx="537.9" cy="344.5" r="8.3" fill="url(#gs10)" stroke="#A5A5A5" stroke-width="3.2"/>
<circle cx="551.8" cy="337.1" r="8.3" fill="url(#gs10)" stroke="#A5A5A5" stroke-width="3.2"/>
<circle cx="565.8" cy="329.8" r="8.3" fill="url(#gs10)" stroke="#A5A5A5" stroke-width="3.2"/>
<circle cx="579.7" cy="322.3" r="8.3" fill="url(#gs10)" stroke="#A5A5A5" stroke-width="3.2"/>
<circle cx="593.6" cy="315.1" r="8.3" fill="url(#gs10)" stroke="#A5A5A5" stroke-width="3.2"/>
<circle cx="607.5" cy="308.0" r="8.3" fill="url(#gs10)" stroke="#A5A5A5" stroke-width="3.2"/>
<circle cx="621.4" cy="300.9" r="8.3" fill="url(#gs10)" stroke="#A5A5A5" stroke-width="3.2"/>
<circle cx="635.3" cy="293.7" r="8.3" fill="url(#gs10)" stroke="#A5A5A5" stroke-width="3.2"/>
<circle cx="649.2" cy="285.8" r="8.3" fill="url(#gs10)" stroke="#A5A5A5" stroke-width="3.2"/>
<circle cx="663.1" cy="274.5" r="8.3" fill="url(#gs10)" stroke="#A5A5A5" stroke-width="3.2"/>
<circle cx="677.0" cy="261.5" r="8.3" fill="url(#gs10)" stroke="#A5A5A5" stroke-width="3.2"/>
<circle cx="690.9" cy="245.3" r="8.3" fill="url(#gs10)" stroke="#A5A5A5" stroke-width="3.2"/>
</g>
<g>
<path d="M386.0 426.0V429.2M379.0 426.0h13.9M379.0 429.2h13.9M399.9 415.0V418.2M392.9 415.0h13.9M392.9 418.2h13.9M413.8 401.9V405.3M406.8 401.9h13.9M406.8 405.3h13.9M427.7 389.9V393.3M420.7 389.9h13.9M420.7 393.3h13.9M441.6 381.4V384.9M434.7 381.4h13.9M434.7 384.9h13.9M455.5 373.3V376.9M448.6 373.3h13.9M448.6 376.9h13.9M469.4 365.3V368.9M462.5 365.3h13.9M462.5 368.9h13.9M483.3 356.7V360.5M476.4 356.7h13.9M476.4 360.5h13.9M497.2 348.7V352.5M490.3 348.7h13.9M490.3 352.5h13.9M511.1 340.7V344.5M504.2 340.7h13.9M504.2 344.5h13.9M525.0 331.6V335.6M518.1 331.6h13.9M518.1 335.6h13.9M538.9 322.6V326.6M532.0 322.6h13.9M532.0 326.6h13.9M552.8 312.1V318.1M545.9 312.1h13.9M545.9 318.1h13.9M566.8 301.6V309.6M559.8 301.6h13.9M559.8 309.6h13.9M580.7 290.6V300.6M573.7 290.6h13.9M573.7 300.6h13.9M594.6 279.4V291.4M587.6 279.4h13.9M587.6 291.4h13.9M608.5 267.4V281.4M601.5 267.4h13.9M601.5 281.4h13.9M622.4 256.3V272.3M615.4 256.3h13.9M615.4 272.3h13.9M636.3 244.0V260.6M629.3 244.0h13.9M629.3 260.6h13.9M650.2 228.6V248.6M643.2 228.6h13.9M643.2 248.6h13.9M664.1 216.5V237.9M657.1 216.5h13.9M657.1 237.9h13.9M678.0 202.1V227.3M671.0 202.1h13.9M671.0 227.3h13.9M691.9 185.4V215.4M684.9 185.4h13.9M684.9 215.4h13.9" stroke="#444" stroke-width="2.9" fill="none"/>
<polyline points="148.6,541.0 162.5,539.0 176.4,538.0 190.3,534.5 204.2,530.0 218.1,525.0 232.0,519.0 245.9,512.3 259.8,504.8 273.7,498.0 287.6,490.7 301.6,482.0 315.5,473.0 329.4,464.5 343.3,457.0 357.2,449.0 371.1,438.0 385.0,427.0 398.9,416.0 412.8,403.0 426.7,391.0 440.6,382.5 454.5,374.5 468.4,366.5 482.3,358.0 496.2,350.0 510.1,342.0 524.0,333.0 537.9,324.0 551.8,314.5 565.8,305.0 579.7,295.0 593.6,284.8 607.5,273.8 621.4,263.7 635.3,251.7 649.2,238.0 663.1,226.6 677.0,214.1 690.9,199.8" fill="none" stroke="#FFC000" stroke-width="2.6" stroke-linejoin="round"/>
<circle cx="148.6" cy="541.0" r="8.3" fill="url(#gs20)" stroke="#FFC000" stroke-width="3.2"/>
<circle cx="162.5" cy="539.0" r="8.3" fill="url(#gs20)" stroke="#FFC000" stroke-width="3.2"/>
<circle cx="176.4" cy="538.0" r="8.3" fill="url(#gs20)" stroke="#FFC000" stroke-width="3.2"/>
<circle cx="190.3" cy="534.5" r="8.3" fill="url(#gs20)" stroke="#FFC000" stroke-width="3.2"/>
<circle cx="204.2" cy="530.0" r="8.3" fill="url(#gs20)" stroke="#FFC000" stroke-width="3.2"/>
<circle cx="218.1" cy="525.0" r="8.3" fill="url(#gs20)" stroke="#FFC000" stroke-width="3.2"/>
<circle cx="232.0" cy="519.0" r="8.3" fill="url(#gs20)" stroke="#FFC000" stroke-width="3.2"/>
<circle cx="245.9" cy="512.3" r="8.3" fill="url(#gs20)" stroke="#FFC000" stroke-width="3.2"/>
<circle cx="259.8" cy="504.8" r="8.3" fill="url(#gs20)" stroke="#FFC000" stroke-width="3.2"/>
<circle cx="273.7" cy="498.0" r="8.3" fill="url(#gs20)" stroke="#FFC000" stroke-width="3.2"/>
<circle cx="287.6" cy="490.7" r="8.3" fill="url(#gs20)" stroke="#FFC000" stroke-width="3.2"/>
<circle cx="301.6" cy="482.0" r="8.3" fill="url(#gs20)" stroke="#FFC000" stroke-width="3.2"/>
<circle cx="315.5" cy="473.0" r="8.3" fill="url(#gs20)" stroke="#FFC000" stroke-width="3.2"/>
<circle cx="329.4" cy="464.5" r="8.3" fill="url(#gs20)" stroke="#FFC000" stroke-width="3.2"/>
<circle cx="343.3" cy="457.0" r="8.3" fill="url(#gs20)" stroke="#FFC000" stroke-width="3.2"/>
<circle cx="357.2" cy="449.0" r="8.3" fill="url(#gs20)" stroke="#FFC000" stroke-width="3.2"/>
<circle cx="371.1" cy="438.0" r="8.3" fill="url(#gs20)" stroke="#FFC000" stroke-width="3.2"/>
<circle cx="385.0" cy="427.0" r="8.3" fill="url(#gs20)" stroke="#FFC000" stroke-width="3.2"/>
<circle cx="398.9" cy="416.0" r="8.3" fill="url(#gs20)" stroke="#FFC000" stroke-width="3.2"/>
<circle cx="412.8" cy="403.0" r="8.3" fill="url(#gs20)" stroke="#FFC000" stroke-width="3.2"/>
<circle cx="426.7" cy="391.0" r="8.3" fill="url(#gs20)" stroke="#FFC000" stroke-width="3.2"/>
<circle cx="440.6" cy="382.5" r="8.3" fill="url(#gs20)" stroke="#FFC000" stroke-width="3.2"/>
<circle cx="454.5" cy="374.5" r="8.3" fill="url(#gs20)" stroke="#FFC000" stroke-width="3.2"/>
<circle cx="468.4" cy="366.5" r="8.3" fill="url(#gs20)" stroke="#FFC000" stroke-width="3.2"/>
<circle cx="482.3" cy="358.0" r="8.3" fill="url(#gs20)" stroke="#FFC000" stroke-width="3.2"/>
<circle cx="496.2" cy="350.0" r="8.3" fill="url(#gs20)" stroke="#FFC000" stroke-width="3.2"/>
<circle cx="510.1" cy="342.0" r="8.3" fill="url(#gs20)" stroke="#FFC000" stroke-width="3.2"/>
<circle cx="524.0" cy="333.0" r="8.3" fill="url(#gs20)" stroke="#FFC000" stroke-width="3.2"/>
<circle cx="537.9" cy="324.0" r="8.3" fill="url(#gs20)" stroke="#FFC000" stroke-width="3.2"/>
<circle cx="551.8" cy="314.5" r="8.3" fill="url(#gs20)" stroke="#FFC000" stroke-width="3.2"/>
<circle cx="565.8" cy="305.0" r="8.3" fill="url(#gs20)" stroke="#FFC000" stroke-width="3.2"/>
<circle cx="579.7" cy="295.0" r="8.3" fill="url(#gs20)" stroke="#FFC000" stroke-width="3.2"/>
<circle cx="593.6" cy="284.8" r="8.3" fill="url(#gs20)" stroke="#FFC000" stroke-width="3.2"/>
<circle cx="607.5" cy="273.8" r="8.3" fill="url(#gs20)" stroke="#FFC000" stroke-width="3.2"/>
<circle cx="621.4" cy="263.7" r="8.3" fill="url(#gs20)" stroke="#FFC000" stroke-width="3.2"/>
<circle cx="635.3" cy="251.7" r="8.3" fill="url(#gs20)" stroke="#FFC000" stroke-width="3.2"/>
<circle cx="649.2" cy="238.0" r="8.3" fill="url(#gs20)" stroke="#FFC000" stroke-width="3.2"/>
<circle cx="663.1" cy="226.6" r="8.3" fill="url(#gs20)" stroke="#FFC000" stroke-width="3.2"/>
<circle cx="677.0" cy="214.1" r="8.3" fill="url(#gs20)" stroke="#FFC000" stroke-width="3.2"/>
<circle cx="690.9" cy="199.8" r="8.3" fill="url(#gs20)" stroke="#FFC000" stroke-width="3.2"/>
</g>
<g>
<path d="M399.9 421.5V424.7M392.9 421.5h13.9M392.9 424.7h13.9M413.8 409.5V412.7M406.8 409.5h13.9M406.8 412.7h13.9M427.7 399.9V403.3M420.7 399.9h13.9M420.7 403.3h13.9M441.6 392.4V395.8M434.7 392.4h13.9M434.7 395.8h13.9M455.5 385.3V388.7M448.6 385.3h13.9M448.6 388.7h13.9M469.4 378.8V382.4M462.5 378.8h13.9M462.5 382.4h13.9M483.3 371.8V375.4M476.4 371.8h13.9M476.4 375.4h13.9M497.2 365.3V368.9M490.3 365.3h13.9M490.3 368.9h13.9M511.1 359.0V362.8M504.2 359.0h13.9M504.2 362.8h13.9M525.0 353.7V357.5M518.1 353.7h13.9M518.1 357.5h13.9M538.9 346.4V350.2M532.0 346.4h13.9M532.0 350.2h13.9M552.8 338.9V342.9M545.9 338.9h13.9M545.9 342.9h13.9M566.8 331.6V335.6M559.8 331.6h13.9M559.8 335.6h13.9M580.7 323.2V329.0M573.7 323.2h13.9M573.7 329.0h13.9M594.6 314.8V322.4M587.6 314.8h13.9M587.6 322.4h13.9M608.5 306.4V315.9M601.5 306.4h13.9M601.5 315.9h13.9M622.4 297.9V309.3M615.4 297.9h13.9M615.4 309.3h13.9M636.3 289.5V302.7M629.3 289.5h13.9M629.3 302.7h13.9M650.2 281.1V296.1M643.2 281.1h13.9M643.2 296.1h13.9M664.1 271.9V288.4M657.1 271.9h13.9M657.1 288.4h13.9M678.0 263.6V281.6M671.0 263.6h13.9M671.0 281.6h13.9M691.9 252.9V273.9M684.9 252.9h13.9M684.9 273.9h13.9" stroke="#444" stroke-width="2.9" fill="none"/>
<polyline points="148.6,533.0 162.5,538.0 176.4,538.0 190.3,534.5 204.2,530.0 218.1,525.0 232.0,519.0 245.9,512.5 259.8,505.3 273.7,499.0 287.6,492.2 301.6,484.0 315.5,475.4 329.4,467.8 343.3,461.0 357.2,453.5 371.1,443.0 385.0,432.5 398.9,422.5 412.8,410.5 426.7,401.0 440.6,393.5 454.5,386.4 468.4,380.0 482.3,373.0 496.2,366.5 510.1,360.3 524.0,355.0 537.9,347.7 551.8,340.3 565.8,333.0 579.7,325.5 593.6,318.0 607.5,310.5 621.4,303.0 635.3,295.5 649.2,288.0 663.1,279.5 677.0,272.0 690.9,262.8" fill="none" stroke="#5B9BD5" stroke-width="2.6" stroke-linejoin="round"/>
<circle cx="148.6" cy="533.0" r="8.3" fill="url(#gs30)" stroke="#5B9BD5" stroke-width="3.2"/>
<circle cx="162.5" cy="538.0" r="8.3" fill="url(#gs30)" stroke="#5B9BD5" stroke-width="3.2"/>
<circle cx="176.4" cy="538.0" r="8.3" fill="url(#gs30)" stroke="#5B9BD5" stroke-width="3.2"/>
<circle cx="190.3" cy="534.5" r="8.3" fill="url(#gs30)" stroke="#5B9BD5" stroke-width="3.2"/>
<circle cx="204.2" cy="530.0" r="8.3" fill="url(#gs30)" stroke="#5B9BD5" stroke-width="3.2"/>
<circle cx="218.1" cy="525.0" r="8.3" fill="url(#gs30)" stroke="#5B9BD5" stroke-width="3.2"/>
<circle cx="232.0" cy="519.0" r="8.3" fill="url(#gs30)" stroke="#5B9BD5" stroke-width="3.2"/>
<circle cx="245.9" cy="512.5" r="8.3" fill="url(#gs30)" stroke="#5B9BD5" stroke-width="3.2"/>
<circle cx="259.8" cy="505.3" r="8.3" fill="url(#gs30)" stroke="#5B9BD5" stroke-width="3.2"/>
<circle cx="273.7" cy="499.0" r="8.3" fill="url(#gs30)" stroke="#5B9BD5" stroke-width="3.2"/>
<circle cx="287.6" cy="492.2" r="8.3" fill="url(#gs30)" stroke="#5B9BD5" stroke-width="3.2"/>
<circle cx="301.6" cy="484.0" r="8.3" fill="url(#gs30)" stroke="#5B9BD5" stroke-width="3.2"/>
<circle cx="315.5" cy="475.4" r="8.3" fill="url(#gs30)" stroke="#5B9BD5" stroke-width="3.2"/>
<circle cx="329.4" cy="467.8" r="8.3" fill="url(#gs30)" stroke="#5B9BD5" stroke-width="3.2"/>
<circle cx="343.3" cy="461.0" r="8.3" fill="url(#gs30)" stroke="#5B9BD5" stroke-width="3.2"/>
<circle cx="357.2" cy="453.5" r="8.3" fill="url(#gs30)" stroke="#5B9BD5" stroke-width="3.2"/>
<circle cx="371.1" cy="443.0" r="8.3" fill="url(#gs30)" stroke="#5B9BD5" stroke-width="3.2"/>
<circle cx="385.0" cy="432.5" r="8.3" fill="url(#gs30)" stroke="#5B9BD5" stroke-width="3.2"/>
<circle cx="398.9" cy="422.5" r="8.3" fill="url(#gs30)" stroke="#5B9BD5" stroke-width="3.2"/>
<circle cx="412.8" cy="410.5" r="8.3" fill="url(#gs30)" stroke="#5B9BD5" stroke-width="3.2"/>
<circle cx="426.7" cy="401.0" r="8.3" fill="url(#gs30)" stroke="#5B9BD5" stroke-width="3.2"/>
<circle cx="440.6" cy="393.5" r="8.3" fill="url(#gs30)" stroke="#5B9BD5" stroke-width="3.2"/>
<circle cx="454.5" cy="386.4" r="8.3" fill="url(#gs30)" stroke="#5B9BD5" stroke-width="3.2"/>
<circle cx="468.4" cy="380.0" r="8.3" fill="url(#gs30)" stroke="#5B9BD5" stroke-width="3.2"/>
<circle cx="482.3" cy="373.0" r="8.3" fill="url(#gs30)" stroke="#5B9BD5" stroke-width="3.2"/>
<circle cx="496.2" cy="366.5" r="8.3" fill="url(#gs30)" stroke="#5B9BD5" stroke-width="3.2"/>
<circle cx="510.1" cy="360.3" r="8.3" fill="url(#gs30)" stroke="#5B9BD5" stroke-width="3.2"/>
<circle cx="524.0" cy="355.0" r="8.3" fill="url(#gs30)" stroke="#5B9BD5" stroke-width="3.2"/>
<circle cx="537.9" cy="347.7" r="8.3" fill="url(#gs30)" stroke="#5B9BD5" stroke-width="3.2"/>
<circle cx="551.8" cy="340.3" r="8.3" fill="url(#gs30)" stroke="#5B9BD5" stroke-width="3.2"/>
<circle cx="565.8" cy="333.0" r="8.3" fill="url(#gs30)" stroke="#5B9BD5" stroke-width="3.2"/>
<circle cx="579.7" cy="325.5" r="8.3" fill="url(#gs30)" stroke="#5B9BD5" stroke-width="3.2"/>
<circle cx="593.6" cy="318.0" r="8.3" fill="url(#gs30)" stroke="#5B9BD5" stroke-width="3.2"/>
<circle cx="607.5" cy="310.5" r="8.3" fill="url(#gs30)" stroke="#5B9BD5" stroke-width="3.2"/>
<circle cx="621.4" cy="303.0" r="8.3" fill="url(#gs30)" stroke="#5B9BD5" stroke-width="3.2"/>
<circle cx="635.3" cy="295.5" r="8.3" fill="url(#gs30)" stroke="#5B9BD5" stroke-width="3.2"/>
<circle cx="649.2" cy="288.0" r="8.3" fill="url(#gs30)" stroke="#5B9BD5" stroke-width="3.2"/>
<circle cx="663.1" cy="279.5" r="8.3" fill="url(#gs30)" stroke="#5B9BD5" stroke-width="3.2"/>
<circle cx="677.0" cy="272.0" r="8.3" fill="url(#gs30)" stroke="#5B9BD5" stroke-width="3.2"/>
<circle cx="690.9" cy="262.8" r="8.3" fill="url(#gs30)" stroke="#5B9BD5" stroke-width="3.2"/>
</g>
<g>
<polyline points="148.6,529.8 162.5,536.7 176.4,537.5 190.3,534.4 204.2,530.6 218.1,526.3 232.0,521.4 245.9,516.0 259.8,510.3 273.7,505.3 287.6,500.0 301.6,494.6 315.5,488.4 329.4,483.0 343.3,477.0 357.2,471.3 371.1,465.5 385.0,459.1 398.9,452.0 412.8,444.7 426.7,437.0 440.6,431.2 454.5,426.6 468.4,422.9 482.3,419.6 496.2,416.8 510.1,412.7 524.0,408.1 537.9,403.2 551.8,399.2 565.8,394.6 579.7,390.0 593.6,385.4 607.5,380.8 621.4,375.6 635.3,370.0 649.2,364.3 663.1,358.0 677.0,351.2 690.9,343.0" fill="none" stroke="#70AD47" stroke-width="2.6" stroke-linejoin="round"/>
<circle cx="148.6" cy="529.8" r="8.3" fill="url(#gs40)" stroke="#70AD47" stroke-width="3.2"/>
<circle cx="162.5" cy="536.7" r="8.3" fill="url(#gs40)" stroke="#70AD47" stroke-width="3.2"/>
<circle cx="176.4" cy="537.5" r="8.3" fill="url(#gs40)" stroke="#70AD47" stroke-width="3.2"/>
<circle cx="190.3" cy="534.4" r="8.3" fill="url(#gs40)" stroke="#70AD47" stroke-width="3.2"/>
<circle cx="204.2" cy="530.6" r="8.3" fill="url(#gs40)" stroke="#70AD47" stroke-width="3.2"/>
<circle cx="218.1" cy="526.3" r="8.3" fill="url(#gs40)" stroke="#70AD47" stroke-width="3.2"/>
<circle cx="232.0" cy="521.4" r="8.3" fill="url(#gs40)" stroke="#70AD47" stroke-width="3.2"/>
<circle cx="245.9" cy="516.0" r="8.3" fill="url(#gs40)" stroke="#70AD47" stroke-width="3.2"/>
<circle cx="259.8" cy="510.3" r="8.3" fill="url(#gs40)" stroke="#70AD47" stroke-width="3.2"/>
<circle cx="273.7" cy="505.3" r="8.3" fill="url(#gs40)" stroke="#70AD47" stroke-width="3.2"/>
<circle cx="287.6" cy="500.0" r="8.3" fill="url(#gs40)" stroke="#70AD47" stroke-width="3.2"/>
<circle cx="301.6" cy="494.6" r="8.3" fill="url(#gs40)" stroke="#70AD47" stroke-width="3.2"/>
<circle cx="315.5" cy="488.4" r="8.3" fill="url(#gs40)" stroke="#70AD47" stroke-width="3.2"/>
<circle cx="329.4" cy="483.0" r="8.3" fill="url(#gs40)" stroke="#70AD47" stroke-width="3.2"/>
<circle cx="343.3" cy="477.0" r="8.3" fill="url(#gs40)" stroke="#70AD47" stroke-width="3.2"/>
<circle cx="357.2" cy="471.3" r="8.3" fill="url(#gs40)" stroke="#70AD47" stroke-width="3.2"/>
<circle cx="371.1" cy="465.5" r="8.3" fill="url(#gs40)" stroke="#70AD47" stroke-width="3.2"/>
<circle cx="385.0" cy="459.1" r="8.3" fill="url(#gs40)" stroke="#70AD47" stroke-width="3.2"/>
<circle cx="398.9" cy="452.0" r="8.3" fill="url(#gs40)" stroke="#70AD47" stroke-width="3.2"/>
<circle cx="412.8" cy="444.7" r="8.3" fill="url(#gs40)" stroke="#70AD47" stroke-width="3.2"/>
<circle cx="426.7" cy="437.0" r="8.3" fill="url(#gs40)" stroke="#70AD47" stroke-width="3.2"/>
<circle cx="440.6" cy="431.2" r="8.3" fill="url(#gs40)" stroke="#70AD47" stroke-width="3.2"/>
<circle cx="454.5" cy="426.6" r="8.3" fill="url(#gs40)" stroke="#70AD47" stroke-width="3.2"/>
<circle cx="468.4" cy="422.9" r="8.3" fill="url(#gs40)" stroke="#70AD47" stroke-width="3.2"/>
<circle cx="482.3" cy="419.6" r="8.3" fill="url(#gs40)" stroke="#70AD47" stroke-width="3.2"/>
<circle cx="496.2" cy="416.8" r="8.3" fill="url(#gs40)" stroke="#70AD47" stroke-width="3.2"/>
<circle cx="510.1" cy="412.7" r="8.3" fill="url(#gs40)" stroke="#70AD47" stroke-width="3.2"/>
<circle cx="524.0" cy="408.1" r="8.3" fill="url(#gs40)" stroke="#70AD47" stroke-width="3.2"/>
<circle cx="537.9" cy="403.2" r="8.3" fill="url(#gs40)" stroke="#70AD47" stroke-width="3.2"/>
<circle cx="551.8" cy="399.2" r="8.3" fill="url(#gs40)" stroke="#70AD47" stroke-width="3.2"/>
<circle cx="565.8" cy="394.6" r="8.3" fill="url(#gs40)" stroke="#70AD47" stroke-width="3.2"/>
<circle cx="579.7" cy="390.0" r="8.3" fill="url(#gs40)" stroke="#70AD47" stroke-width="3.2"/>
<circle cx="593.6" cy="385.4" r="8.3" fill="url(#gs40)" stroke="#70AD47" stroke-width="3.2"/>
<circle cx="607.5" cy="380.8" r="8.3" fill="url(#gs40)" stroke="#70AD47" stroke-width="3.2"/>
<circle cx="621.4" cy="375.6" r="8.3" fill="url(#gs40)" stroke="#70AD47" stroke-width="3.2"/>
<circle cx="635.3" cy="370.0" r="8.3" fill="url(#gs40)" stroke="#70AD47" stroke-width="3.2"/>
<circle cx="649.2" cy="364.3" r="8.3" fill="url(#gs40)" stroke="#70AD47" stroke-width="3.2"/>
<circle cx="663.1" cy="358.0" r="8.3" fill="url(#gs40)" stroke="#70AD47" stroke-width="3.2"/>
<circle cx="677.0" cy="351.2" r="8.3" fill="url(#gs40)" stroke="#70AD47" stroke-width="3.2"/>
<circle cx="690.9" cy="343.0" r="8.3" fill="url(#gs40)" stroke="#70AD47" stroke-width="3.2"/>
</g>
<g>
<polyline points="148.6,536.3 162.5,544.2 176.4,542.7 190.3,539.6 204.2,535.3 218.1,530.7 232.0,525.8 245.9,520.9 259.8,515.9 273.7,510.5 287.6,505.9 301.6,501.3 315.5,496.8 329.4,492.2 343.3,488.5 357.2,485.0 371.1,480.4 385.0,475.8 398.9,469.5 412.8,461.5 426.7,454.4 440.6,448.9 454.5,445.3 468.4,442.4 482.3,440.1 496.2,437.8 510.1,434.3 524.0,431.9 537.9,429.0 551.8,426.1 565.8,422.1 579.7,418.1 593.6,414.1 607.5,410.6 621.4,407.2 635.3,403.5 649.2,399.5 663.1,395.5 677.0,391.7 690.9,387.8" fill="none" stroke="#24467F" stroke-width="2.6" stroke-linejoin="round"/>
<circle cx="148.6" cy="536.3" r="8.3" fill="url(#gs50)" stroke="#24467F" stroke-width="3.2"/>
<circle cx="162.5" cy="544.2" r="8.3" fill="url(#gs50)" stroke="#24467F" stroke-width="3.2"/>
<circle cx="176.4" cy="542.7" r="8.3" fill="url(#gs50)" stroke="#24467F" stroke-width="3.2"/>
<circle cx="190.3" cy="539.6" r="8.3" fill="url(#gs50)" stroke="#24467F" stroke-width="3.2"/>
<circle cx="204.2" cy="535.3" r="8.3" fill="url(#gs50)" stroke="#24467F" stroke-width="3.2"/>
<circle cx="218.1" cy="530.7" r="8.3" fill="url(#gs50)" stroke="#24467F" stroke-width="3.2"/>
<circle cx="232.0" cy="525.8" r="8.3" fill="url(#gs50)" stroke="#24467F" stroke-width="3.2"/>
<circle cx="245.9" cy="520.9" r="8.3" fill="url(#gs50)" stroke="#24467F" stroke-width="3.2"/>
<circle cx="259.8" cy="515.9" r="8.3" fill="url(#gs50)" stroke="#24467F" stroke-width="3.2"/>
<circle cx="273.7" cy="510.5" r="8.3" fill="url(#gs50)" stroke="#24467F" stroke-width="3.2"/>
<circle cx="287.6" cy="505.9" r="8.3" fill="url(#gs50)" stroke="#24467F" stroke-width="3.2"/>
<circle cx="301.6" cy="501.3" r="8.3" fill="url(#gs50)" stroke="#24467F" stroke-width="3.2"/>
<circle cx="315.5" cy="496.8" r="8.3" fill="url(#gs50)" stroke="#24467F" stroke-width="3.2"/>
<circle cx="329.4" cy="492.2" r="8.3" fill="url(#gs50)" stroke="#24467F" stroke-width="3.2"/>
<circle cx="343.3" cy="488.5" r="8.3" fill="url(#gs50)" stroke="#24467F" stroke-width="3.2"/>
<circle cx="357.2" cy="485.0" r="8.3" fill="url(#gs50)" stroke="#24467F" stroke-width="3.2"/>
<circle cx="371.1" cy="480.4" r="8.3" fill="url(#gs50)" stroke="#24467F" stroke-width="3.2"/>
<circle cx="385.0" cy="475.8" r="8.3" fill="url(#gs50)" stroke="#24467F" stroke-width="3.2"/>
<circle cx="398.9" cy="469.5" r="8.3" fill="url(#gs50)" stroke="#24467F" stroke-width="3.2"/>
<circle cx="412.8" cy="461.5" r="8.3" fill="url(#gs50)" stroke="#24467F" stroke-width="3.2"/>
<circle cx="426.7" cy="454.4" r="8.3" fill="url(#gs50)" stroke="#24467F" stroke-width="3.2"/>
<circle cx="440.6" cy="448.9" r="8.3" fill="url(#gs50)" stroke="#24467F" stroke-width="3.2"/>
<circle cx="454.5" cy="445.3" r="8.3" fill="url(#gs50)" stroke="#24467F" stroke-width="3.2"/>
<circle cx="468.4" cy="442.4" r="8.3" fill="url(#gs50)" stroke="#24467F" stroke-width="3.2"/>
<circle cx="482.3" cy="440.1" r="8.3" fill="url(#gs50)" stroke="#24467F" stroke-width="3.2"/>
<circle cx="496.2" cy="437.8" r="8.3" fill="url(#gs50)" stroke="#24467F" stroke-width="3.2"/>
<circle cx="510.1" cy="434.3" r="8.3" fill="url(#gs50)" stroke="#24467F" stroke-width="3.2"/>
<circle cx="524.0" cy="431.9" r="8.3" fill="url(#gs50)" stroke="#24467F" stroke-width="3.2"/>
<circle cx="537.9" cy="429.0" r="8.3" fill="url(#gs50)" stroke="#24467F" stroke-width="3.2"/>
<circle cx="551.8" cy="426.1" r="8.3" fill="url(#gs50)" stroke="#24467F" stroke-width="3.2"/>
<circle cx="565.8" cy="422.1" r="8.3" fill="url(#gs50)" stroke="#24467F" stroke-width="3.2"/>
<circle cx="579.7" cy="418.1" r="8.3" fill="url(#gs50)" stroke="#24467F" stroke-width="3.2"/>
<circle cx="593.6" cy="414.1" r="8.3" fill="url(#gs50)" stroke="#24467F" stroke-width="3.2"/>
<circle cx="607.5" cy="410.6" r="8.3" fill="url(#gs50)" stroke="#24467F" stroke-width="3.2"/>
<circle cx="621.4" cy="407.2" r="8.3" fill="url(#gs50)" stroke="#24467F" stroke-width="3.2"/>
<circle cx="635.3" cy="403.5" r="8.3" fill="url(#gs50)" stroke="#24467F" stroke-width="3.2"/>
<circle cx="649.2" cy="399.5" r="8.3" fill="url(#gs50)" stroke="#24467F" stroke-width="3.2"/>
<circle cx="663.1" cy="395.5" r="8.3" fill="url(#gs50)" stroke="#24467F" stroke-width="3.2"/>
<circle cx="677.0" cy="391.7" r="8.3" fill="url(#gs50)" stroke="#24467F" stroke-width="3.2"/>
<circle cx="690.9" cy="387.8" r="8.3" fill="url(#gs50)" stroke="#24467F" stroke-width="3.2"/>
</g>
<text transform="translate(127.60 573.30) scale(0.9500 1)" font-size="30" text-anchor="end">0.1</text>
<text transform="translate(127.60 529.55) scale(0.9500 1)" font-size="30" text-anchor="end">0.12</text>
<text transform="translate(127.60 485.80) scale(0.9500 1)" font-size="30" text-anchor="end">0.14</text>
<text transform="translate(127.60 442.05) scale(0.9500 1)" font-size="30" text-anchor="end">0.16</text>
<text transform="translate(127.60 398.30) scale(0.9500 1)" font-size="30" text-anchor="end">0.18</text>
<text transform="translate(127.60 354.55) scale(0.9500 1)" font-size="30" text-anchor="end">0.2</text>
<text transform="translate(127.60 310.80) scale(0.9500 1)" font-size="30" text-anchor="end">0.22</text>
<text transform="translate(127.60 267.05) scale(0.9500 1)" font-size="30" text-anchor="end">0.24</text>
<text transform="translate(127.60 223.30) scale(0.9500 1)" font-size="30" text-anchor="end">0.26</text>
<text transform="translate(127.60 179.55) scale(0.9500 1)" font-size="30" text-anchor="end">0.28</text>
<text transform="translate(127.60 135.80) scale(0.9500 1)" font-size="30" text-anchor="end">0.3</text>
<text transform="translate(149.60 601.40) scale(0.9500 1)" font-size="30" text-anchor="middle">0</text>
<text transform="translate(242.40 601.40) scale(0.9500 1)" font-size="30" text-anchor="middle">100</text>
<text transform="translate(335.20 601.40) scale(0.9500 1)" font-size="30" text-anchor="middle">200</text>
<text transform="translate(428.00 601.40) scale(0.9500 1)" font-size="30" text-anchor="middle">300</text>
<text transform="translate(520.80 601.40) scale(0.9500 1)" font-size="30" text-anchor="middle">400</text>
<text transform="translate(613.60 601.40) scale(0.9500 1)" font-size="30" text-anchor="middle">500</text>
<text transform="translate(706.40 601.40) scale(0.9500 1)" font-size="30" text-anchor="middle">600</text>
<text transform="translate(427.30 641.00) scale(0.9630 1)" font-size="35.6" text-anchor="middle">Time (minutes)</text>
<text transform="translate(54.50 345.20) rotate(-90) scale(0.9630 1)" font-size="35.6" text-anchor="middle">Growth (O.D. 600 nm)</text>
<text transform="translate(184.20 145.20) scale(0.9580 1)" font-size="29.2" text-anchor="start">IPTG <tspan font-style="italic">(µ</tspan>M)</text>
<path d="M197.9 184.9H255.4" stroke="#4472C4" stroke-width="2.6"/>
<circle cx="226" cy="184.9" r="8.3" fill="url(#gs0)" stroke="#4472C4" stroke-width="3.2"/>
<text transform="translate(259.60 194.10) scale(0.9500 1)" font-size="30" text-anchor="start">0</text>
<path d="M197.9 223.1H255.4" stroke="#ED7D31" stroke-width="2.6"/>
<circle cx="226" cy="223.1" r="8.3" fill="url(#gs5)" stroke="#ED7D31" stroke-width="3.2"/>
<text transform="translate(259.60 232.30) scale(0.9500 1)" font-size="30" text-anchor="start">5</text>
<path d="M197.9 261.3H255.4" stroke="#A5A5A5" stroke-width="2.6"/>
<circle cx="226" cy="261.3" r="8.3" fill="url(#gs10)" stroke="#A5A5A5" stroke-width="3.2"/>
<text transform="translate(259.60 270.50) scale(0.9500 1)" font-size="30" text-anchor="start">10</text>
<path d="M197.9 299.5H255.4" stroke="#FFC000" stroke-width="2.6"/>
<circle cx="226" cy="299.5" r="8.3" fill="url(#gs20)" stroke="#FFC000" stroke-width="3.2"/>
<text transform="translate(259.60 308.70) scale(0.9500 1)" font-size="30" text-anchor="start">20</text>
<path d="M197.9 337.7H255.4" stroke="#5B9BD5" stroke-width="2.6"/>
<circle cx="226" cy="337.7" r="8.3" fill="url(#gs30)" stroke="#5B9BD5" stroke-width="3.2"/>
<text transform="translate(259.60 346.90) scale(0.9500 1)" font-size="30" text-anchor="start">30</text>
<path d="M197.9 375.9H255.4" stroke="#70AD47" stroke-width="2.6"/>
<circle cx="226" cy="375.9" r="8.3" fill="url(#gs40)" stroke="#70AD47" stroke-width="3.2"/>
<text transform="translate(259.60 385.10) scale(0.9500 1)" font-size="30" text-anchor="start">40</text>
<path d="M197.9 414.1H255.4" stroke="#24467F" stroke-width="2.6"/>
<circle cx="226" cy="414.1" r="8.3" fill="url(#gs50)" stroke="#24467F" stroke-width="3.2"/>
<text transform="translate(259.60 423.30) scale(0.9500 1)" font-size="30" text-anchor="start">50</text>
<linearGradient id="b0" x1="0" y1="0" x2="0" y2="1"><stop offset="0" stop-color="#5E83C7"/><stop offset="0.5" stop-color="#4472C4"/><stop offset="1" stop-color="#2E5CAB"/></linearGradient>
<linearGradient id="b1" x1="0" y1="0" x2="0" y2="1"><stop offset="0" stop-color="#EC8C54"/><stop offset="0.5" stop-color="#ED7D31"/><stop offset="1" stop-color="#DC6C28"/></linearGradient>
<linearGradient id="b2" x1="0" y1="0" x2="0" y2="1"><stop offset="0" stop-color="#B0B0B0"/><stop offset="0.5" stop-color="#A5A5A5"/><stop offset="1" stop-color="#9A9A9A"/></linearGradient>
<linearGradient id="b3" x1="0" y1="0" x2="0" y2="1"><stop offset="0" stop-color="#F8C655"/><stop offset="0.5" stop-color="#F9C224"/><stop offset="1" stop-color="#E3B52C"/></linearGradient>
<linearGradient id="b4" x1="0" y1="0" x2="0" y2="1"><stop offset="0" stop-color="#70A2D4"/><stop offset="0.5" stop-color="#5B9BD5"/><stop offset="1" stop-color="#4A8BC7"/></linearGradient>
<linearGradient id="b5" x1="0" y1="0" x2="0" y2="1"><stop offset="0" stop-color="#82B663"/><stop offset="0.5" stop-color="#70AD47"/><stop offset="1" stop-color="#63A141"/></linearGradient>
<linearGradient id="b6" x1="0" y1="0" x2="0" y2="1"><stop offset="0" stop-color="#4C5E8D"/><stop offset="0.5" stop-color="#264478"/><stop offset="1" stop-color="#203C72"/></linearGradient>
<rect x="960.9" y="441.2" width="48.2" height="120.9" fill="url(#b0)" filter="url(#bsh)"/>
<rect x="1031.5" y="350.0" width="48.2" height="212.1" fill="url(#b1)" filter="url(#bsh)"/>
<rect x="1101.9" y="256.1" width="48.2" height="306.0" fill="url(#b2)" filter="url(#bsh)"/>
<rect x="1172.9" y="178.1" width="48.2" height="384.0" fill="url(#b3)" filter="url(#bsh)"/>
<rect x="1243.3" y="180.9" width="48.2" height="381.2" fill="url(#b4)" filter="url(#bsh)"/>
<rect x="1313.9" y="314.9" width="48.2" height="247.2" fill="url(#b5)" filter="url(#bsh)"/>
<rect x="1383.9" y="347.2" width="48.2" height="214.9" fill="url(#b6)" filter="url(#bsh)"/>
<path d="M985.0 440.8V441.6M978.1 440.8h13.8M978.1 441.6h13.8" stroke="#505050" stroke-width="3.1" fill="none"/>
<path d="M1055.6 349.4V350.6M1048.7 349.4h13.8M1048.7 350.6h13.8" stroke="#505050" stroke-width="3.1" fill="none"/>
<path d="M1126.0 221.4V290.8M1119.1 221.4h13.8M1119.1 290.8h13.8" stroke="#505050" stroke-width="3.1" fill="none"/>
<path d="M1197.0 167.3V188.8M1190.1 167.3h13.8M1190.1 188.8h13.8" stroke="#505050" stroke-width="3.1" fill="none"/>
<path d="M1267.4 168.6V193.2M1260.5 168.6h13.8M1260.5 193.2h13.8" stroke="#505050" stroke-width="3.1" fill="none"/>
<path d="M1338.0 307.8V322.0M1331.1 307.8h13.8M1331.1 322.0h13.8" stroke="#505050" stroke-width="3.1" fill="none"/>
<path d="M1408.0 342.8V351.6M1401.1 342.8h13.8M1401.1 351.6h13.8" stroke="#505050" stroke-width="3.1" fill="none"/>
<g stroke="#000" fill="none">
<path d="M950.1 137V562.1" stroke-width="3.6"/>
<path d="M942.3 562.1H1442" stroke-width="3.7"/>
<path d="M942.3 562.10H957.8M942.3 456.25H957.8M942.3 350.40H957.8M942.3 244.55H957.8M942.3 138.70H957.8" stroke-width="3"/>
<path d="M985.00 556V568M1055.60 556V568M1126.00 556V568M1197.00 556V568M1267.40 556V568M1338.00 556V568M1408.00 556V568" stroke-width="3.4"/>
<path d="M1442 556V568" stroke-width="1.2"/>
</g>
<text transform="translate(928.20 571.40) scale(0.9500 1)" font-size="30" text-anchor="end">0</text>
<text transform="translate(928.20 465.55) scale(0.9500 1)" font-size="30" text-anchor="end">0.0001</text>
<text transform="translate(928.20 359.70) scale(0.9500 1)" font-size="30" text-anchor="end">0.0002</text>
<text transform="translate(928.20 253.85) scale(0.9500 1)" font-size="30" text-anchor="end">0.0003</text>
<text transform="translate(928.20 148.00) scale(0.9500 1)" font-size="30" text-anchor="end">0.0004</text>
<text transform="translate(985.00 600.20) scale(0.9500 1)" font-size="30" text-anchor="middle">0</text>
<text transform="translate(1055.60 600.20) scale(0.9500 1)" font-size="30" text-anchor="middle">5</text>
<text transform="translate(1126.00 600.20) scale(0.9500 1)" font-size="30" text-anchor="middle">10</text>
<text transform="translate(1197.00 600.20) scale(0.9500 1)" font-size="30" text-anchor="middle">20</text>
<text transform="translate(1267.40 600.20) scale(0.9500 1)" font-size="30" text-anchor="middle">30</text>
<text transform="translate(1338.00 600.20) scale(0.9500 1)" font-size="30" text-anchor="middle">40</text>
<text transform="translate(1408.00 600.20) scale(0.9500 1)" font-size="30" text-anchor="middle">50</text>
<text transform="translate(1197.00 639.20) scale(0.9550 1)" font-size="35.6" text-anchor="middle">IPTG <tspan font-style="italic">(µ</tspan>M)</text>
<text transform="translate(789.60 350.60) rotate(-90) scale(0.9590 1)" font-size="35.6" text-anchor="middle">Maximum growth rate</text>
<text transform="translate(822.60 344.30) rotate(-90) scale(0.9570 1)" font-size="35.6" text-anchor="middle">(O.D. 600 nm/min)</text>
</g></svg>
</body></html>
